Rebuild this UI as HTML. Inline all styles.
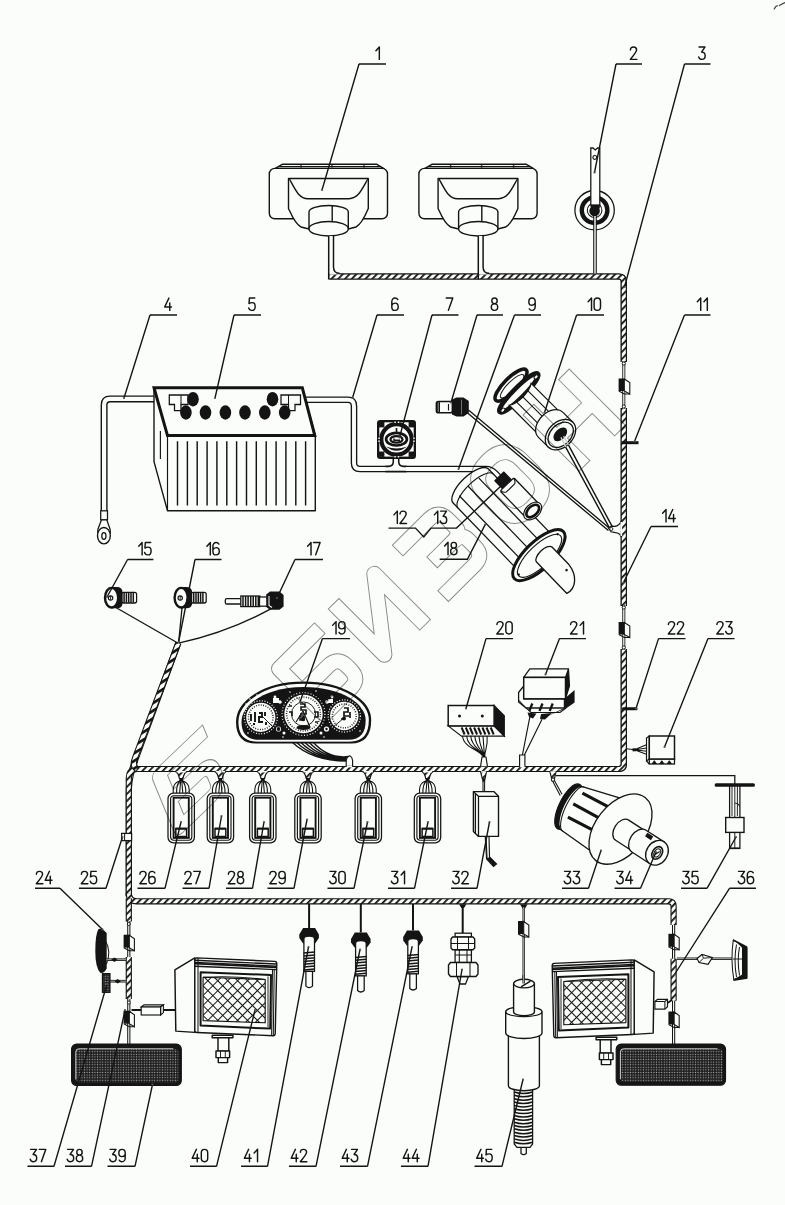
<!DOCTYPE html>
<html><head><meta charset="utf-8"><title>Wiring diagram</title>
<style>
html,body{margin:0;padding:0;background:#fafdf9;}
body{width:785px;height:1205px;overflow:hidden;font-family:"Liberation Sans",sans-serif;}
svg{display:block}
</style></head><body>
<svg width="785" height="1205" viewBox="0 0 785 1205">
<defs>
<pattern id="hatch" width="6.8" height="4.9" patternUnits="userSpaceOnUse" patternTransform="rotate(-46)">
<rect width="6.8" height="4.9" fill="#fafdf9"/><rect width="6.8" height="1.8" fill="#141414"/></pattern>
<pattern id="hatchd" width="6.5" height="6.5" patternUnits="userSpaceOnUse" patternTransform="rotate(-32)">
<rect width="6.5" height="6.5" fill="#fafdf9"/><rect width="6.5" height="2.7" fill="#141414"/></pattern>
<pattern id="mesh" width="7" height="7" patternUnits="userSpaceOnUse" patternTransform="rotate(45)">
<rect width="7" height="7" fill="#fafdf9"/><path d="M0,0H7M0,0V7" stroke="#141414" stroke-width="2.0" fill="none"/></pattern>
<pattern id="dots" width="2.6" height="2.6" patternUnits="userSpaceOnUse">
<rect width="2.6" height="2.6" fill="#1a1a1a"/><rect x="0.7" y="0.7" width="1.2" height="1.2" fill="#a6a6a6"/></pattern>
</defs>
<rect width="785" height="1205" fill="#fafdf9"/>
<path d="M329.3,276.5 H618.8 Q623.8,276.5 623.8,281.5 V362" fill="none" stroke="#141414" stroke-width="6.2" stroke-linejoin="round"/>
<path d="M329.3,276.5 H618.8 Q623.8,276.5 623.8,281.5 V362" fill="none" stroke="url(#hatch)" stroke-width="4.0" stroke-linejoin="round"/>
<path d="M623.8,408 V606" fill="none" stroke="#141414" stroke-width="6.2" stroke-linejoin="round"/>
<path d="M623.8,408 V606" fill="none" stroke="url(#hatch)" stroke-width="4.0" stroke-linejoin="round"/>
<path d="M623.8,649 V764.0 Q623.8,769.0 618.8,769.0 H136" fill="none" stroke="#141414" stroke-width="6.2" stroke-linejoin="round"/>
<path d="M623.8,649 V764.0 Q623.8,769.0 618.8,769.0 H136" fill="none" stroke="url(#hatch)" stroke-width="4.0" stroke-linejoin="round"/>
<path d="M128.8,896.3 V790 Q129.10000000000002,776 135.2,760.5" fill="none" stroke="#141414" stroke-width="6.2" stroke-linejoin="round"/>
<path d="M128.8,896.3 V790 Q129.10000000000002,776 135.2,760.5" fill="none" stroke="url(#hatch)" stroke-width="4.0" stroke-linejoin="round"/>
<path d="M178.3,643 L134.5,762" fill="none" stroke="#141414" stroke-width="6.2" stroke-linejoin="round"/>
<path d="M178.3,643 L134.5,762" fill="none" stroke="url(#hatchd)" stroke-width="4.0" stroke-linejoin="round"/>
<path d="M329.3,276.5 H618.8 Q623.8,276.5 623.8,281.5 V362" fill="none" stroke="#141414" stroke-width="6.2" stroke-linejoin="round"/>
<path d="M329.3,276.5 H618.8 Q623.8,276.5 623.8,281.5 V362" fill="none" stroke="url(#hatch)" stroke-width="4.0" stroke-linejoin="round"/>
<path d="M623.8,408 V606" fill="none" stroke="#141414" stroke-width="6.2" stroke-linejoin="round"/>
<path d="M623.8,408 V606" fill="none" stroke="url(#hatch)" stroke-width="4.0" stroke-linejoin="round"/>
<path d="M623.8,649 V764.0 Q623.8,769.0 618.8,769.0 H136.8 Q128.8,770.0 128.8,778.0 V896.3" fill="none" stroke="#141414" stroke-width="6.2" stroke-linejoin="round"/>
<path d="M623.8,649 V764.0 Q623.8,769.0 618.8,769.0 H136.8 Q128.8,770.0 128.8,778.0 V896.3" fill="none" stroke="url(#hatch)" stroke-width="4.0" stroke-linejoin="round"/>
<path d="M178.3,643 L135,758 Q132,766 136.8,769.0" fill="none" stroke="#141414" stroke-width="6.2" stroke-linejoin="round"/>
<path d="M178.3,643 L135,758 Q132,766 136.8,769.0" fill="none" stroke="url(#hatchd)" stroke-width="4.0" stroke-linejoin="round"/>
<path d="M128.8,893.3 Q128.8,901.3 136.8,901.3 H668.6 Q673.6,901.3 673.6,906.3 V925" fill="none" stroke="#141414" stroke-width="6.2" stroke-linejoin="round"/>
<path d="M128.8,893.3 Q128.8,901.3 136.8,901.3 H668.6 Q673.6,901.3 673.6,906.3 V925" fill="none" stroke="url(#hatch)" stroke-width="4.0" stroke-linejoin="round"/>
<path d="M128.8,898.3 V921.5" fill="none" stroke="#141414" stroke-width="6.2" stroke-linejoin="round"/>
<path d="M128.8,898.3 V921.5" fill="none" stroke="url(#hatch)" stroke-width="4.0" stroke-linejoin="round"/>
<g transform="translate(0,0)" fill="#fafdf9" stroke="#141414" stroke-width="1.4" stroke-linejoin="round"><path d="M275,168.5 L282.3,164.3 H376.8 L384,168.5 Z"/><path d="M278.5,166.6 H380.5" stroke-width="1.03"/><rect x="269.3" y="168.4" width="118.2" height="50.4" rx="5.5"/><path d="M288.5,178.5 H368.3 V208.5 C366,214 362,224 356,227 L348.3,229 H309 L301,227 C295,224 291,214 288.5,208.5 Z"/><path d="M289.5,179 C296,191 299,198.4 308,198.7 L349,198.7 C358,198.4 361,191 367.8,179" fill="none"/><path d="M309,212 V229 A19.65,7 0 0 0 348.3,229 V212 A19.65,6.5 0 0 0 309,212 Z"/><path d="M309,228.5 A19.65,7 0 0 1 348.3,228.5" fill="none"/><path d="M332.2,205.7 V221.6" fill="none"/><path d="M301,165.2 V167.6" stroke-width="1.49"/><path d="M332,165.2 V167.6" stroke-width="1.49"/><path d="M364,165.2 V167.6" stroke-width="1.49"/></g>
<g transform="translate(149.6,0)" fill="#fafdf9" stroke="#141414" stroke-width="1.4" stroke-linejoin="round"><path d="M275,168.5 L282.3,164.3 H376.8 L384,168.5 Z"/><path d="M278.5,166.6 H380.5" stroke-width="1.03"/><rect x="269.3" y="168.4" width="118.2" height="50.4" rx="5.5"/><path d="M288.5,178.5 H368.3 V208.5 C366,214 362,224 356,227 L348.3,229 H309 L301,227 C295,224 291,214 288.5,208.5 Z"/><path d="M289.5,179 C296,191 299,198.4 308,198.7 L349,198.7 C358,198.4 361,191 367.8,179" fill="none"/><path d="M309,212 V229 A19.65,7 0 0 0 348.3,229 V212 A19.65,6.5 0 0 0 309,212 Z"/><path d="M309,228.5 A19.65,7 0 0 1 348.3,228.5" fill="none"/><path d="M332.2,205.7 V221.6" fill="none"/><path d="M301,165.2 V167.6" stroke-width="1.49"/><path d="M332,165.2 V167.6" stroke-width="1.49"/><path d="M364,165.2 V167.6" stroke-width="1.49"/></g>
<path d="M329.3,236 H332.9 V267 Q332.9,274 339.5,274 V274.6 H329.3 Z" fill="#fafdf9" stroke="none"/>
<path d="M328.7,236 V279.4 M333.5,236 V267 Q333.5,273.3 339.5,273.3" fill="none" stroke="#141414" stroke-width="1.49" />
<path d="M478.9,236 H482.5 V267 Q482.5,274 489.1,274 V274.6 H478.9 Z" fill="#fafdf9" stroke="none"/>
<path d="M478.29999999999995,236 V279.4 M483.1,236 V267 Q483.1,273.3 489.1,273.3" fill="none" stroke="#141414" stroke-width="1.49" />
<circle cx="594.6" cy="210.2" r="19.7" fill="#fafdf9" stroke="#141414" stroke-width="1.26"/>
<circle cx="594.6" cy="210.2" r="12.8" fill="none" stroke="#141414" stroke-width="4.4"/>
<circle cx="594.6" cy="210.2" r="7.3" fill="#fafdf9" stroke="#141414" stroke-width="1.03"/>
<path d="M590.8,205.5 V148 H593 L595.3,150 L597.6,148 H599.8 V205.5 Z" fill="#fafdf9" stroke="#141414" stroke-width="1.26"/>
<circle cx="594.6" cy="211.0" r="5.3" fill="#141414"/>
<rect x="590.8" y="204.5" width="9" height="4" fill="#141414"/>
<circle cx="594.8" cy="157.4" r="1.9" fill="#fafdf9" stroke="#141414" stroke-width="1.15"/>
<path d="M595,216 V273.5" fill="none" stroke="#141414" stroke-width="3.6" stroke-linejoin="round"/>
<path d="M595,216 V273.5" fill="none" stroke="#fafdf9" stroke-width="1.4" stroke-linejoin="round"/>
<path d="M172,398.9 H110 Q104.1,398.9 104.1,405 V511" fill="none" stroke="#141414" stroke-width="7.0" stroke-linejoin="round"/>
<path d="M172,398.9 H110 Q104.1,398.9 104.1,405 V511" fill="none" stroke="#fafdf9" stroke-width="4.2" stroke-linejoin="round"/>
<rect x="100.7" y="510.8" width="6.8" height="9" fill="#fafdf9" stroke="#141414" stroke-width="1.26"/>
<path d="M101.5,519.8 L98,529 A6.4,8.2 0 1 0 110,529 L106.8,519.8 Z" fill="#fafdf9" stroke="#141414" stroke-width="1.26"/>
<ellipse cx="103.9" cy="535.7" rx="6.4" ry="8.2" fill="#fafdf9" stroke="#141414" stroke-width="1.38"/>
<ellipse cx="103.9" cy="536" rx="2.1" ry="3.4" fill="#fafdf9" stroke="#141414" stroke-width="1.26"/>
<path d="M298,399.7 H348 Q354,399.7 354,406 V463 Q354,469 360,469 H386" fill="none" stroke="#141414" stroke-width="6.6" stroke-linejoin="round"/>
<path d="M298,399.7 H348 Q354,399.7 354,406 V463 Q354,469 360,469 H386" fill="none" stroke="#fafdf9" stroke-width="3.9" stroke-linejoin="round"/>
<path d="M385.5,466.37 H388.5 Q393.3,466.37 393.3,461.5 V458.5 M406.5,466.37 H403.5 Q398.7,466.37 398.7,461.5 V458.5 M385.5,471.63 H406.5" fill="none" stroke="#141414" stroke-width="1.55" />
<path d="M406,469 H486 Q491,469 495,473 L500,478" fill="none" stroke="#141414" stroke-width="6.6" stroke-linejoin="round"/>
<path d="M406,469 H486 Q491,469 495,473 L500,478" fill="none" stroke="#fafdf9" stroke-width="3.9" stroke-linejoin="round"/>
<path d="M154,387.7 V461.6 L167.5,510.8 H315.3 V435.6 L302.3,387.7 Z" fill="#fafdf9" stroke="#141414" stroke-width="1.38" stroke-linejoin="round"/>
<path d="M154,387.7 H302.3 L314.8,435.6 H167.5 Z" fill="#fafdf9" stroke="#141414" stroke-width="3.0" stroke-linejoin="miter"/>
<path d="M167.5,435.6 V510.8 M160.4,431 V459" fill="none" stroke="#141414" stroke-width="1.15" />
<path d="M177.5,441.2 V505.4 M187.4,441.2 V505.4 M197.2,441.2 V505.4 M207.1,441.2 V505.4 M216.9,441.2 V505.4 M226.8,441.2 V505.4 M236.6,441.2 V505.4 M246.5,441.2 V505.4 M256.3,441.2 V505.4 M266.2,441.2 V505.4 M276.1,441.2 V505.4 M285.9,441.2 V505.4 M295.8,441.2 V505.4 M305.6,441.2 V505.4 " fill="none" stroke="#141414" stroke-width="1.44" />
<path d="M169.3,395 H188 V404.5 H181 V410.7 H174.5 V404.5 H169.3 Z" fill="#fafdf9" stroke="#141414" stroke-width="1.26"/>
<path d="M300.5,395 H281 V404.5 H288.5 V410.7 H295 V404.5 H300.5 Z" fill="#fafdf9" stroke="#141414" stroke-width="1.26"/>
<path d="M181,395 V404.5 M288.5,395 V404.5" fill="none" stroke="#141414" stroke-width="1.03" />
<ellipse cx="185.9" cy="412.5" rx="5.8" ry="7.2" fill="#141414"/>
<ellipse cx="205.5" cy="412.5" rx="5.8" ry="7.2" fill="#141414"/>
<ellipse cx="225.4" cy="412.5" rx="5.8" ry="7.2" fill="#141414"/>
<ellipse cx="245" cy="412.5" rx="5.8" ry="7.2" fill="#141414"/>
<ellipse cx="264.8" cy="412.5" rx="5.8" ry="7.2" fill="#141414"/>
<ellipse cx="284.7" cy="412.5" rx="5.8" ry="7.2" fill="#141414"/>
<ellipse cx="193" cy="399.2" rx="5.8" ry="7.2" fill="#141414"/>
<ellipse cx="272.5" cy="399.2" rx="5.8" ry="7.2" fill="#141414"/>
<rect x="377" y="420" width="39" height="38.9" rx="3.2" fill="#141414"/>
<rect x="379.3" y="422.3" width="34.4" height="34.3" fill="#fafdf9"/>
<rect x="379" y="422" width="5.4" height="5.4" fill="#141414"/>
<rect x="408.6" y="422" width="5.4" height="5.4" fill="#141414"/>
<rect x="379" y="451.5" width="5.4" height="5.4" fill="#141414"/>
<rect x="408.6" y="451.5" width="5.4" height="5.4" fill="#141414"/>
<circle cx="396.5" cy="439.4" r="15.2" fill="#fafdf9" stroke="#141414" stroke-width="4.2"/>
<path d="M386,446.5 Q396.5,455 407,446.5 Q396.5,450.5 386,446.5 Z" fill="#141414"/>
<ellipse cx="396.5" cy="439.2" rx="10.4" ry="6.3" fill="#fafdf9" stroke="#141414" stroke-width="2.7"/>
<ellipse cx="396.5" cy="439.4" rx="6.0" ry="3.3" fill="#fafdf9" stroke="#141414" stroke-width="2.3"/>
<path d="M393.5,440.2 H400 M394,438.4 V440.4" stroke="#141414" stroke-width="1.49" fill="none"/>
<path d="M396.5,428 V432.5" stroke="#141414" stroke-width="1.6"/>
<path d="M394.4,422.2 h1.4 M397.8,422.2 h1.4 M394.4,456.7 h1.4 M397.8,456.7 h1.4 M379,437.5 v1.4 M379,440.5 v1.4 M414,437.5 v1.4 M414,440.5 v1.4" stroke="#fafdf9" stroke-width="1.38"/>
<rect x="436.4" y="401.5" width="16" height="11.2" rx="2" fill="#fafdf9" stroke="#141414" stroke-width="1.6"/>
<path d="M437,402 V412.4 M439.2,401.8 V412.6" stroke="#141414" stroke-width="1.6" fill="none"/>
<path d="M452,399.5 L456.5,397.5 H463.5 L468.8,401 V413 L463.5,416.6 H456.5 L452,414.5 Z" fill="#141414"/>
<path d="M461.5,399.5 V414.5" stroke="#777" stroke-width="0.92"/>
<path d="M448.5,404 V410.5" stroke="#141414" stroke-width="1.15"/>
<path d="M468.5,410 L609.5,528.2 M467.6,412.9 L608.4,530.6" fill="none" stroke="#141414" stroke-width="1.32" />
<path d="M560.4,437.4 L609.4,527.8 M563.6,435.8 L612,526.2" fill="none" stroke="#141414" stroke-width="1.4" />
<path d="M608.3,528 L611.5,526.2 L615,526.4 Q619,526 621.3,521 V537 Q619.5,532.8 615.5,532.6 L611,531.8 Z" fill="#fafdf9" stroke="#141414" stroke-width="1.15"/>
<path d="M621.3,522 V536" stroke="#fafdf9" stroke-width="1.6"/>
<circle cx="611.3" cy="529" r="1.6" fill="#fafdf9" stroke="#141414" stroke-width="0.92"/>
<g transform="translate(560.5,434.6) rotate(45)" fill="#fafdf9" stroke="#141414" stroke-width="1.26"><ellipse cx="-70" cy="0" rx="7" ry="21.5" stroke-width="3.6"/><ellipse cx="-68.5" cy="0" rx="4.5" ry="16" stroke-width="1.03"/><path d="M-59,-27 C-52,-27 -52,27 -59,27 C-66,27 -66,-27 -59,-27 Z" stroke-width="4.6" /><ellipse cx="-58" cy="-23.5" rx="1.6" ry="2.4" stroke-width="1.03"/><ellipse cx="-58" cy="23.5" rx="1.6" ry="2.4" stroke-width="1.03"/><path d="M-57,-15.5 H-12 V15.5 H-57 C-52,8 -52,-8 -57,-15.5 Z"/><path d="M-55,-8 H-14 M-54,0 H-14 M-55,8 H-14" fill="none" stroke-width="1.15"/><path d="M-14,-17.5 H0 V17.5 H-14 A12,17.5 0 0 1 -14,-17.5 Z"/><ellipse cx="0" cy="0" rx="12.5" ry="17.5"/><ellipse cx="0.3" cy="0" rx="10.3" ry="14.6"/><ellipse cx="-0.3" cy="0" rx="4.6" ry="7.6" fill="#141414"/></g>
<path d="M560.9,437.4 L566,446.8 M563.6,436.2 L568.3,445" fill="none" stroke="#cfcfcf" stroke-width="1.38" />
<rect x="622" y="441.2" width="16.5" height="3" fill="#141414"/>
<rect x="622" y="707.2" width="15.5" height="3" rx="1.2" fill="#141414"/>
<path d="M623.8,361 V409" fill="none" stroke="#141414" stroke-width="3.0" stroke-linejoin="round"/>
<path d="M623.8,361 V409" fill="none" stroke="#fafdf9" stroke-width="1.26" stroke-linejoin="round"/>
<circle cx="623.8" cy="363.5" r="1.6" fill="#fafdf9" stroke="#141414" stroke-width="0.92"/><circle cx="623.8" cy="406.5" r="1.6" fill="#fafdf9" stroke="#141414" stroke-width="0.92"/>
<path d="M618.5999999999999,378.5 H624.3 V391 H618.5999999999999 Z" fill="#141414"/>
<path d="M624.3,379 L629.8,382.5 V394 L624.3,391 Z" fill="#fafdf9" stroke="#141414" stroke-width="1.09"/>
<path d="M618.8,391 L624.3,394 H629.8" fill="none" stroke="#141414" stroke-width="1.03"/>
<path d="M623.8,605 V650" fill="none" stroke="#141414" stroke-width="3.0" stroke-linejoin="round"/>
<path d="M623.8,605 V650" fill="none" stroke="#fafdf9" stroke-width="1.26" stroke-linejoin="round"/>
<circle cx="623.8" cy="607.5" r="1.6" fill="#fafdf9" stroke="#141414" stroke-width="0.92"/><circle cx="623.8" cy="647.5" r="1.6" fill="#fafdf9" stroke="#141414" stroke-width="0.92"/>
<path d="M618.5999999999999,622.0 H624.3 V634.5 H618.5999999999999 Z" fill="#141414"/>
<path d="M624.3,622.5 L629.8,626.0 V637.5 L624.3,634.5 Z" fill="#fafdf9" stroke="#141414" stroke-width="1.09"/>
<path d="M618.8,634.5 L624.3,637.5 H629.8" fill="none" stroke="#141414" stroke-width="1.03"/>
<g transform="translate(539.6,554.4) rotate(46)" fill="#fafdf9" stroke="#141414" stroke-width="1.32" stroke-linejoin="round"><path d="M-97,-22.5 H-3 V26.5 H-97 A10,24.5 0 0 1 -97,-22.5 Z"/><path d="M-90,-22.5 A9,24.5 0 0 0 -90,26.5" fill="none" stroke-width="1.15"/><path d="M-98,17 H-6 M-99,4 H-6 M-97,-9.3 H-6" fill="none" stroke-width="1.26"/><path d="M-72,-34.7 H-36 V-15.7 H-72 Z"/><path d="M-84,-31.5 H-72.5 V-19 H-84 Z" fill="#141414"/><path d="M-73,-34 Q-70,-34.5 -68,-31 V-19.5 Q-70,-16 -73,-16.5 Z" fill="#fafdf9" stroke-width="1.15"/><ellipse cx="-36" cy="-25.2" rx="7" ry="10.5" stroke-width="1.15"/><ellipse cx="-36" cy="-25.2" rx="4.6" ry="7.6" stroke-width="2.6"/><ellipse cx="0" cy="1" rx="13.5" ry="34" stroke-width="3.0"/><ellipse cx="1" cy="1" rx="10.6" ry="29" stroke-width="1.15"/><circle cx="-2" cy="-27" r="1.2" fill="#141414" stroke="none"/><circle cx="0" cy="29" r="1.2" fill="#141414" stroke="none"/><path d="M3,-14 H28 C41,-12.5 50,-3 47,7.5 H3 A5,10.8 0 0 1 3,-14 Z"/><circle cx="30" cy="-8.5" r="1.3" fill="#141414" stroke="none"/></g>
<path d="M115,607 L178.2,643.2 M182,608 L178.6,643 M271.6,608.4 Q229,632 178.6,643.2" fill="none" stroke="#141414" stroke-width="1.32" />
<rect x="121.6" y="592.4000000000001" width="15" height="10.6" rx="2" fill="#fafdf9" stroke="#141414" stroke-width="1.26"/>
<path d="M124.1,592.7 V602.7" stroke="#141414" stroke-width="1.5"/><path d="M126.4,592.7 V602.7" stroke="#141414" stroke-width="1.5"/><path d="M128.7,592.7 V602.7" stroke="#141414" stroke-width="1.5"/><path d="M131.0,592.7 V602.7" stroke="#141414" stroke-width="1.5"/><path d="M133.3,592.7 V602.7" stroke="#141414" stroke-width="1.5"/>
<path d="M111.6,587.1 H116.6 Q122.6,587.1 122.6,592.7 V602.7 Q122.6,608.3000000000001 116.6,608.3000000000001 H111.6 Z" fill="#141414"/>
<ellipse cx="111.6" cy="597.7" rx="6.6" ry="9.8" fill="#fafdf9" stroke="#141414" stroke-width="2.4"/>
<circle cx="110.6" cy="598.0" r="2.2" fill="#fafdf9" stroke="#141414" stroke-width="1.15"/>
<path d="M110.6,595.9000000000001 V600.1" stroke="#141414" stroke-width="0.92"/>
<rect x="191.2" y="592.4000000000001" width="15" height="10.6" rx="2" fill="#fafdf9" stroke="#141414" stroke-width="1.26"/>
<path d="M193.7,592.7 V602.7" stroke="#141414" stroke-width="1.5"/><path d="M196.0,592.7 V602.7" stroke="#141414" stroke-width="1.5"/><path d="M198.3,592.7 V602.7" stroke="#141414" stroke-width="1.5"/><path d="M200.6,592.7 V602.7" stroke="#141414" stroke-width="1.5"/><path d="M202.9,592.7 V602.7" stroke="#141414" stroke-width="1.5"/>
<path d="M181.2,587.1 H186.2 Q192.2,587.1 192.2,592.7 V602.7 Q192.2,608.3000000000001 186.2,608.3000000000001 H181.2 Z" fill="#141414"/>
<ellipse cx="181.2" cy="597.7" rx="6.6" ry="9.8" fill="#fafdf9" stroke="#141414" stroke-width="2.4"/>
<circle cx="180.2" cy="598.0" r="2.2" fill="#fafdf9" stroke="#141414" stroke-width="1.15"/>
<path d="M180.2,595.9000000000001 V600.1" stroke="#141414" stroke-width="0.92"/>
<rect x="225.3" y="598.6" width="16" height="5.4" rx="1.6" fill="#fafdf9" stroke="#141414" stroke-width="1.26"/>
<rect x="240.8" y="596" width="19" height="10.6" fill="#fafdf9" stroke="#141414" stroke-width="1.26"/>
<path d="M243.0,596 V606.6" stroke="#141414" stroke-width="1.5"/><path d="M245.6,596 V606.6" stroke="#141414" stroke-width="1.5"/><path d="M248.1,596 V606.6" stroke="#141414" stroke-width="1.5"/><path d="M250.7,596 V606.6" stroke="#141414" stroke-width="1.5"/><path d="M253.2,596 V606.6" stroke="#141414" stroke-width="1.5"/><path d="M255.8,596 V606.6" stroke="#141414" stroke-width="1.5"/><path d="M258.3,596 V606.6" stroke="#141414" stroke-width="1.5"/>
<rect x="259.5" y="597" width="9" height="9.2" fill="#fafdf9" stroke="#141414" stroke-width="1.26"/>
<path d="M266.2,594.5 L270,591.6 H279.5 L283.6,595 V606.5 L279.5,609.8 H270 L266.2,607 Z" fill="#141414"/>
<path d="M269,596 V605.5 L272,607.5" stroke="#fafdf9" stroke-width="1.03" fill="none"/>
<path d="M292.0,742 Q312.0,761.0 346.5,761.0 M296.2,742 Q315.2,760.6 346.9,760.1 M300.4,742 Q318.4,760.2 347.3,759.2 M304.6,742 Q321.6,759.8 347.7,758.3 M308.8,742 Q324.8,759.4 348.1,757.4 M313.0,742 Q328.0,759.0 348.5,756.5 " fill="none" stroke="#141414" stroke-width="1.32" />
<path d="M346.2,766.2 V760.5 Q346.5,757 349.8,755.8 Q352.3,757 352.6,760.5 V766.2 Z" fill="#fafdf9" stroke="#141414" stroke-width="1.15"/>
<path d="M346.7,766.6 H352.1" stroke="#fafdf9" stroke-width="1.6"/>
<path d="M256,742.4 C242,742.4 237.2,734 237.2,722 C237.2,703 262,682.6 303.5,682.6 C345,682.6 370,702 370,720 C370,734 365,742.4 351,742.4 Z" fill="#fafdf9" stroke="#141414" stroke-width="2.4"/>
<path d="M256,742.4 C242,742.4 237.2,734 237.2,722 C237.2,703 262,682.6 303.5,682.6 C345,682.6 370,702 370,720 C370,734 365,742.4 351,742.4 Z" fill="#141414" stroke="none" transform="translate(303.6,714) scale(0.935,0.885) translate(-303.6,-713.2)"/>
<path d="M256,742.4 C242,742.4 237.2,734 237.2,722 C237.2,703 262,682.6 303.5,682.6 C345,682.6 370,702 370,720 C370,734 365,742.4 351,742.4 Z" fill="none" stroke="#fafdf9" stroke-width="0.92" transform="translate(303.6,714) scale(0.965,0.93) translate(-303.6,-713.2)"/>
<circle cx="260.8" cy="717.3" r="14.6" fill="#fafdf9"/>
<circle cx="260.8" cy="717.3" r="12.3" fill="none" stroke="#141414" stroke-width="1.5" stroke-dasharray="0.9 1.5"/>
<circle cx="303.5" cy="714" r="19.2" fill="#fafdf9"/>
<circle cx="303.5" cy="714" r="16.9" fill="none" stroke="#141414" stroke-width="1.5" stroke-dasharray="0.9 1.5"/>
<circle cx="344.3" cy="716" r="14.2" fill="#fafdf9"/>
<circle cx="344.3" cy="716" r="11.899999999999999" fill="none" stroke="#141414" stroke-width="1.5" stroke-dasharray="0.9 1.5"/>
<circle cx="260.8" cy="717.3" r="16.5" fill="none" stroke="#fafdf9" stroke-width="1.26" stroke-dasharray="1 1.7"/>
<circle cx="344.3" cy="716" r="16.099999999999998" fill="none" stroke="#fafdf9" stroke-width="1.26" stroke-dasharray="1 1.7"/>
<circle cx="303.5" cy="714" r="21.4" fill="none" stroke="#fafdf9" stroke-width="1.15" stroke-dasharray="1 1.9"/>
<circle cx="246" cy="704" r="0.8" fill="#fafdf9"/>
<circle cx="250" cy="699" r="0.8" fill="#fafdf9"/>
<circle cx="257" cy="695" r="0.8" fill="#fafdf9"/>
<circle cx="352" cy="697" r="0.8" fill="#fafdf9"/>
<circle cx="358" cy="702" r="0.8" fill="#fafdf9"/>
<circle cx="362" cy="708" r="0.8" fill="#fafdf9"/>
<circle cx="248" cy="733" r="0.8" fill="#fafdf9"/>
<circle cx="360" cy="731" r="0.8" fill="#fafdf9"/>
<circle cx="283" cy="737" r="0.8" fill="#fafdf9"/>
<circle cx="324" cy="737" r="0.8" fill="#fafdf9"/>
<circle cx="290" cy="692" r="0.8" fill="#fafdf9"/>
<circle cx="316" cy="691" r="0.8" fill="#fafdf9"/>
<circle cx="303.5" cy="714" r="12" fill="none" stroke="#141414" stroke-width="0.92"/>
<path d="M303,711 L310,727 M303,711 L296,722" stroke="#141414" stroke-width="1.15" fill="none"/>
<path d="M300,704 h5 v3 h-4 v3 h5 v4 h-6 M300,716 h4 v4 h-4 z" stroke="#141414" stroke-width="1.6" fill="none"/>
<circle cx="303" cy="719" r="2.2" fill="#141414"/>
<ellipse cx="303.5" cy="727.5" rx="7" ry="2.6" fill="#141414"/>
<path d="M314,712 h4 v5 h-4 M289,706 h3 M289,712 h3 v4 M318,722 h-3" stroke="#141414" stroke-width="1.6" fill="none"/>
<path d="M251,714 v7 M255,712 v10 M259,713 h3 v4 h-3 v5 h4 M265,712 v4 M266,722 v3 M253,724 h2" stroke="#141414" stroke-width="1.9" fill="none"/>
<path d="M262,716 L272,726" stroke="#141414" stroke-width="0.92"/>
<path d="M344,708 h4 v4 h-4 v4 h5 M350,712 v6 M341,719 h3" stroke="#141414" stroke-width="1.7" fill="none"/>
<circle cx="344" cy="718.5" r="2" fill="#141414"/>
<path d="M344,718 L333,727" stroke="#141414" stroke-width="0.92"/>
<circle cx="278.5" cy="729" r="2.6" fill="#fafdf9"/>
<circle cx="326.5" cy="729" r="2.6" fill="#fafdf9"/>
<circle cx="280" cy="702" r="1.8" fill="#fafdf9"/>
<circle cx="327" cy="702" r="1.8" fill="#fafdf9"/>
<circle cx="275" cy="697" r="1.4" fill="#fafdf9"/>
<circle cx="332" cy="697" r="1.4" fill="#fafdf9"/>
<circle cx="321" cy="733" r="1.5" fill="#fafdf9"/>
<circle cx="284" cy="733" r="1.5" fill="#fafdf9"/>
<circle cx="278.5" cy="729" r="1.9" fill="#141414"/><circle cx="326.5" cy="729" r="1.2" fill="#141414"/>
<path d="M273,698 h6 v5 h-6 z M328,699 h5 v4 h-5 z" fill="#fafdf9"/>
<path d="M175.6,771.6 Q178.2,772.5 179.39999999999998,778.5 H183.0 Q184.2,772.5 186.79999999999998,771.6" fill="url(#hatch)" stroke="#141414" stroke-width="1.15"/>
<path d="M176.6,771.7 H185.79999999999998" stroke="#fafdf9" stroke-width="1.5"/>
<path d="M179.29999999999998,778 h3.8 v3.6 h-3.8 z" fill="#141414"/>
<path d="M179.7,781 C173.2,783 173.0,788 173.2,793.1 M182.7,781 C189.2,783 189.39999999999998,788 189.2,793.1 M180.2,781 C176.7,784 176.39999999999998,788 176.6,793.1 M182.2,781 C185.7,784 186.0,788 185.79999999999998,793.1 M180.6,781.5 L179.6,793.1 M181.79999999999998,781.5 L182.79999999999998,793.1" fill="none" stroke="#141414" stroke-width="1.09"/>
<rect x="168.0" y="793.1" width="26.4" height="49.7" rx="5.5" fill="#fafdf9" stroke="#141414" stroke-width="1.26"/>
<rect x="170.6" y="795.7" width="21.2" height="44.5" rx="3.4" fill="none" stroke="#141414" stroke-width="1.15"/>
<rect x="173.6" y="797.7" width="15.2" height="40.2" fill="#fafdf9" stroke="#141414" stroke-width="1.9"/>
<rect x="175.79999999999998" y="828.5" width="10.8" height="8" fill="#fafdf9" stroke="#141414" stroke-width="1.49"/>
<path d="M175.79999999999998,828.7 H186.6" stroke="#141414" stroke-width="2.0"/>
<path d="M214.8,771.6 Q217.4,772.5 218.6,778.5 H222.20000000000002 Q223.4,772.5 226.0,771.6" fill="url(#hatch)" stroke="#141414" stroke-width="1.15"/>
<path d="M215.8,771.7 H225.0" stroke="#fafdf9" stroke-width="1.5"/>
<path d="M218.5,778 h3.8 v3.6 h-3.8 z" fill="#141414"/>
<path d="M218.9,781 C212.4,783 212.20000000000002,788 212.4,793.1 M221.9,781 C228.4,783 228.6,788 228.4,793.1 M219.4,781 C215.9,784 215.6,788 215.8,793.1 M221.4,781 C224.9,784 225.20000000000002,788 225.0,793.1 M219.8,781.5 L218.8,793.1 M221.0,781.5 L222.0,793.1" fill="none" stroke="#141414" stroke-width="1.09"/>
<rect x="207.20000000000002" y="793.1" width="26.4" height="49.7" rx="5.5" fill="#fafdf9" stroke="#141414" stroke-width="1.26"/>
<rect x="209.8" y="795.7" width="21.2" height="44.5" rx="3.4" fill="none" stroke="#141414" stroke-width="1.15"/>
<rect x="212.8" y="797.7" width="15.2" height="40.2" fill="#fafdf9" stroke="#141414" stroke-width="1.9"/>
<rect x="215.0" y="828.5" width="10.8" height="8" fill="#fafdf9" stroke="#141414" stroke-width="1.49"/>
<path d="M215.0,828.7 H225.8" stroke="#141414" stroke-width="2.0"/>
<path d="M257.2,771.6 Q259.8,772.5 261.0,778.5 H264.6 Q265.8,772.5 268.40000000000003,771.6" fill="url(#hatch)" stroke="#141414" stroke-width="1.15"/>
<path d="M258.2,771.7 H267.40000000000003" stroke="#fafdf9" stroke-width="1.5"/>
<path d="M260.90000000000003,778 h3.8 v3.6 h-3.8 z" fill="#141414"/>
<path d="M261.3,781 C254.8,783 254.60000000000002,788 254.8,793.1 M264.3,781 C270.8,783 271.0,788 270.8,793.1 M261.8,781 C258.3,784 258.0,788 258.2,793.1 M263.8,781 C267.3,784 267.6,788 267.40000000000003,793.1 M262.2,781.5 L261.2,793.1 M263.40000000000003,781.5 L264.40000000000003,793.1" fill="none" stroke="#141414" stroke-width="1.09"/>
<rect x="249.60000000000002" y="793.1" width="26.4" height="49.7" rx="5.5" fill="#fafdf9" stroke="#141414" stroke-width="1.26"/>
<rect x="252.20000000000002" y="795.7" width="21.2" height="44.5" rx="3.4" fill="none" stroke="#141414" stroke-width="1.15"/>
<rect x="255.20000000000002" y="797.7" width="15.2" height="40.2" fill="#fafdf9" stroke="#141414" stroke-width="1.9"/>
<rect x="257.40000000000003" y="828.5" width="10.8" height="8" fill="#fafdf9" stroke="#141414" stroke-width="1.49"/>
<path d="M257.40000000000003,828.7 H268.2" stroke="#141414" stroke-width="2.0"/>
<path d="M302.4,771.6 Q305,772.5 306.2,778.5 H309.8 Q311,772.5 313.6,771.6" fill="url(#hatch)" stroke="#141414" stroke-width="1.15"/>
<path d="M303.4,771.7 H312.6" stroke="#fafdf9" stroke-width="1.5"/>
<path d="M306.1,778 h3.8 v3.6 h-3.8 z" fill="#141414"/>
<path d="M306.5,781 C300,783 299.8,788 300,793.1 M309.5,781 C316,783 316.2,788 316,793.1 M307,781 C303.5,784 303.2,788 303.4,793.1 M309,781 C312.5,784 312.8,788 312.6,793.1 M307.4,781.5 L306.4,793.1 M308.6,781.5 L309.6,793.1" fill="none" stroke="#141414" stroke-width="1.09"/>
<rect x="294.8" y="793.1" width="26.4" height="49.7" rx="5.5" fill="#fafdf9" stroke="#141414" stroke-width="1.26"/>
<rect x="297.4" y="795.7" width="21.2" height="44.5" rx="3.4" fill="none" stroke="#141414" stroke-width="1.15"/>
<rect x="300.4" y="797.7" width="15.2" height="40.2" fill="#fafdf9" stroke="#141414" stroke-width="1.9"/>
<rect x="302.6" y="828.5" width="10.8" height="8" fill="#fafdf9" stroke="#141414" stroke-width="1.49"/>
<path d="M302.6,828.7 H313.4" stroke="#141414" stroke-width="2.0"/>
<path d="M362.7,771.6 Q365.3,772.5 366.5,778.5 H370.1 Q371.3,772.5 373.90000000000003,771.6" fill="url(#hatch)" stroke="#141414" stroke-width="1.15"/>
<path d="M363.7,771.7 H372.90000000000003" stroke="#fafdf9" stroke-width="1.5"/>
<path d="M366.40000000000003,778 h3.8 v3.6 h-3.8 z" fill="#141414"/>
<path d="M366.8,781 C360.3,783 360.1,788 360.3,793.1 M369.8,781 C376.3,783 376.5,788 376.3,793.1 M367.3,781 C363.8,784 363.5,788 363.7,793.1 M369.3,781 C372.8,784 373.1,788 372.90000000000003,793.1 M367.7,781.5 L366.7,793.1 M368.90000000000003,781.5 L369.90000000000003,793.1" fill="none" stroke="#141414" stroke-width="1.09"/>
<rect x="355.1" y="793.1" width="26.4" height="49.7" rx="5.5" fill="#fafdf9" stroke="#141414" stroke-width="1.26"/>
<rect x="357.7" y="795.7" width="21.2" height="44.5" rx="3.4" fill="none" stroke="#141414" stroke-width="1.15"/>
<rect x="360.7" y="797.7" width="15.2" height="40.2" fill="#fafdf9" stroke="#141414" stroke-width="1.9"/>
<rect x="362.90000000000003" y="828.5" width="10.8" height="8" fill="#fafdf9" stroke="#141414" stroke-width="1.49"/>
<path d="M362.90000000000003,828.7 H373.7" stroke="#141414" stroke-width="2.0"/>
<path d="M421.9,771.6 Q424.5,772.5 425.7,778.5 H429.3 Q430.5,772.5 433.1,771.6" fill="url(#hatch)" stroke="#141414" stroke-width="1.15"/>
<path d="M422.9,771.7 H432.1" stroke="#fafdf9" stroke-width="1.5"/>
<path d="M425.6,778 h3.8 v3.6 h-3.8 z" fill="#141414"/>
<path d="M426.0,781 C419.5,783 419.3,788 419.5,793.1 M429.0,781 C435.5,783 435.7,788 435.5,793.1 M426.5,781 C423.0,784 422.7,788 422.9,793.1 M428.5,781 C432.0,784 432.3,788 432.1,793.1 M426.9,781.5 L425.9,793.1 M428.1,781.5 L429.1,793.1" fill="none" stroke="#141414" stroke-width="1.09"/>
<rect x="414.3" y="793.1" width="26.4" height="49.7" rx="5.5" fill="#fafdf9" stroke="#141414" stroke-width="1.26"/>
<rect x="416.9" y="795.7" width="21.2" height="44.5" rx="3.4" fill="none" stroke="#141414" stroke-width="1.15"/>
<rect x="419.9" y="797.7" width="15.2" height="40.2" fill="#fafdf9" stroke="#141414" stroke-width="1.9"/>
<rect x="422.1" y="828.5" width="10.8" height="8" fill="#fafdf9" stroke="#141414" stroke-width="1.49"/>
<path d="M422.1,828.7 H432.9" stroke="#141414" stroke-width="2.0"/>
<path d="M462.5,736 C463.5,748 481.0,750 483.2,757 M466.6,736 C467.6,748 481.6,750 483.4,757 M470.7,736 C471.7,748 482.2,750 483.7,757 M474.8,736 C475.8,748 482.8,750 483.9,757 M478.9,736 C479.9,748 483.4,750 484.2,757 M483.0,736 C484.0,748 484.0,750 484.4,757 M487.1,736 C488.1,748 484.6,750 484.7,757 " fill="none" stroke="#141414" stroke-width="1.09" />
<path d="M480.6,766.2 L482,757 H486 L487.4,766.2" fill="#fafdf9" stroke="#141414" stroke-width="1.15"/>
<path d="M448.2,725.9 H494.1 L504.3,736.1 H461.5 Z" fill="#fafdf9" stroke="#141414" stroke-width="1.15"/>
<path d="M461.6,727.5 L464.6,734.5" stroke="#141414" stroke-width="2.0"/><path d="M465.8,727.5 L468.8,734.5" stroke="#141414" stroke-width="2.0"/><path d="M469.9,727.5 L472.9,734.5" stroke="#141414" stroke-width="2.0"/><path d="M474.1,727.5 L477.1,734.5" stroke="#141414" stroke-width="2.0"/><path d="M478.2,727.5 L481.2,734.5" stroke="#141414" stroke-width="2.0"/><path d="M482.4,727.5 L485.4,734.5" stroke="#141414" stroke-width="2.0"/><path d="M486.5,727.5 L489.5,734.5" stroke="#141414" stroke-width="2.0"/><path d="M490.7,727.5 L493.7,734.5" stroke="#141414" stroke-width="2.0"/>
<path d="M494.1,705.5 L504.3,715.7 V736.1 L494.1,725.9 Z" fill="#141414" stroke="#141414" stroke-width="1.15"/>
<rect x="448.2" y="705.5" width="45.9" height="20.4" fill="#fafdf9" stroke="#141414" stroke-width="1.49"/>
<circle cx="459.5" cy="715.9" r="1.5" fill="#141414"/><circle cx="482.3" cy="715.9" r="1.5" fill="#141414"/>
<path d="M529.8,717.2 L522.4,755 M542,719.2 L524.4,755" fill="none" stroke="#141414" stroke-width="1.15" />
<path d="M519.6,766.3 V755 H524.9 V766.3" fill="#fafdf9" stroke="#141414" stroke-width="1.15"/>
<path d="M520.2,766.6 H524.4" stroke="#fafdf9" stroke-width="1.6"/>
<path d="M564.4,698.8 L574.6,690 V702.5 L566,708.5 L545,717 L564.4,708 Z" fill="#141414"/>
<path d="M518.6,692.5 L523.7,686 V698.8 H564.4 V708 H526 L518.6,702 Z" fill="#fafdf9" stroke="#141414" stroke-width="1.26" stroke-linejoin="round"/>
<path d="M519,700.5 L526,708 L531,712.5 H560 L566,708" fill="none" stroke="#141414" stroke-width="1.03"/>
<path d="M532.3,703.5 L529.3,711" stroke="#141414" stroke-width="2.3"/>
<path d="M542.5,703.5 L539.5,711" stroke="#141414" stroke-width="2.3"/>
<path d="M552.7,703.5 L549.7,711" stroke="#141414" stroke-width="2.3"/>
<path d="M527.5,712.5 L536.5,713.5 L533,718.5 L529,717 Z M541,714 L552,713 L545,719.5 L540,719 Z" fill="#141414"/>
<path d="M565.5,677.4 L568.5,668.9 L569.5,686 L565.5,698.8 Z" fill="#141414" stroke="#141414" stroke-width="1.15"/>
<path d="M523.7,677.4 L529.8,668.9 H568.5 L565.5,677.4 Z" fill="#fafdf9" stroke="#141414" stroke-width="1.26" stroke-linejoin="round"/>
<rect x="523.7" y="677.4" width="41.8" height="21.4" fill="#fafdf9" stroke="#141414" stroke-width="1.49"/>
<path d="M626.5,748.8 L634.4,749.8 L647,744.5 M634.4,749.8 L647,748 M634.4,749.8 L647,751.2 M634.4,749.8 L647,754.4" fill="none" stroke="#141414" stroke-width="1.09" />
<path d="M632.5,748.3 h3.4 v3 h-3.4 z" fill="#141414"/>
<path d="M646.5,738 L649.3,736 V759 L646.5,761 Z" fill="#fafdf9" stroke="#141414" stroke-width="1.15"/>
<rect x="649.3" y="759" width="25.2" height="5" fill="#fafdf9" stroke="#141414" stroke-width="1.26"/>
<path d="M646.5,761 L649.3,764" stroke="#141414" stroke-width="1.15"/>
<path d="M652,764 l2.3,-3.3 l2.3,3.3 M659.5,764 l2.3,-3.3 l2.3,3.3 M667,764 l2.3,-3.3 l2.3,3.3" fill="#141414" stroke="#141414" stroke-width="0.92"/>
<rect x="649.3" y="736" width="25.2" height="23" fill="#fafdf9" stroke="#141414" stroke-width="1.49"/>
<path d="M480.6,771.8 L482.4,779 H485 L486.4,771.8" fill="url(#hatch)" stroke="#141414" stroke-width="1.15"/>
<path d="M481.1,771.9 H485.9" stroke="#fafdf9" stroke-width="1.4"/>
<path d="M482.2,778.6 h3 v3 h-3 z" fill="#141414"/>
<path d="M483,781 V792 M484.6,781 V792" fill="none" stroke="#141414" stroke-width="1.03" />
<path d="M485.2,836 L486.6,859 L493.5,866.5 L496.5,864 L489.5,857 L489,836 Z" fill="#fafdf9" stroke="#141414" stroke-width="1.15"/>
<path d="M486.6,858.5 L493.5,866.5 L496.5,864 L489.8,857 Z M485.3,836 L486.6,859 L487.6,859 L486.6,836 Z" fill="#141414"/>
<path d="M473.4,791.6 H493.8 L498.5,796.3 V836.4 H478.5 L473.4,831.5 Z" fill="#fafdf9" stroke="#141414" stroke-width="1.38" stroke-linejoin="round"/>
<path d="M473.4,791.6 L478.5,796.3 H498.5 M478.5,796.3 V836.4 M475.4,793.8 V833" fill="none" stroke="#141414" stroke-width="1.26"/>
<path d="M556,775.6 H734.8 V785" fill="none" stroke="#141414" stroke-width="1.26" />
<rect x="729.6" y="785" width="10.3" height="63.4" fill="#fafdf9" stroke="#141414" stroke-width="1.26"/>
<path d="M734.8,785 V848 M732,785 V816 M737.4,785 V816 M735,803 Q739,803 739.6,806.5" fill="none" stroke="#141414" stroke-width="0.92" />
<rect x="714.7" y="783.2" width="40.2" height="3.5" rx="1.5" fill="#141414"/>
<rect x="725.7" y="817.5" width="18.3" height="14.9" fill="#fafdf9" stroke="#141414" stroke-width="1.38"/>
<path d="M730,848.3 H739.6" stroke="#141414" stroke-width="1.6"/>
<path d="M549.9,771.8 L551.6,778.2 H554.6 L556,771.8" fill="url(#hatch)" stroke="#141414" stroke-width="1.15"/>
<path d="M550.4,771.9 H555.5" stroke="#fafdf9" stroke-width="1.4"/>
<circle cx="553" cy="779.6" r="1.7" fill="#fafdf9" stroke="#141414" stroke-width="1.03"/>
<path d="M552.6,781 L560.2,795.4 M554.4,780.4 L562,794.2" fill="none" stroke="#141414" stroke-width="1.09" />
<g transform="translate(620.5,829.1) rotate(26)" fill="#fafdf9" stroke="#141414" stroke-width="1.32" stroke-linejoin="round"><ellipse cx="-56.5" cy="2.5" rx="9.5" ry="24.8" fill="#141414" /><path d="M-53,-21.5 L-12,-28 V33.5 L-53,26.8 A9,24.2 0 0 1 -53,-21.5 Z"/><path d="M-51,-21.8 A8,24 0 0 0 -51,27" fill="none" stroke-width="1.03"/><path d="M-50,-15.6 L-19,-14.7 M-53.5,-1.9 L-22.8,-0.6 M-52.5,12.3 L-23.2,13" stroke-width="3.2" fill="none"/></g><ellipse cx="620.5" cy="829.1" rx="25" ry="40" transform="rotate(38 620.5 829.1)" fill="#fafdf9" stroke="#141414" stroke-width="1.32"/><g transform="translate(620.5,829.1) rotate(33)" fill="#fafdf9" stroke="#141414" stroke-width="1.32" stroke-linejoin="round"><path d="M2,-12 H24 V12 H2 A8,12 0 0 1 2,-12 Z"/><path d="M22,-13 H43.5 V13 H22 A9,13 0 0 1 22,-13 Z"/><path d="M24.5,-9.5 H31.5" stroke-width="4.4" fill="none"/><ellipse cx="43.5" cy="0" rx="10.6" ry="13"/><ellipse cx="43.8" cy="0" rx="4.8" ry="6.8" stroke-width="1.6"/><ellipse cx="43.8" cy="0" rx="2.9" ry="4.4" stroke-width="1.03"/><path d="M42.8,2.6 L45,-2.6" stroke-width="1.26"/></g>
<path d="M128.8,921 V1044" fill="none" stroke="#141414" stroke-width="3.2" stroke-linejoin="round"/>
<path d="M128.8,921 V1044" fill="none" stroke="#fafdf9" stroke-width="1.15" stroke-linejoin="round"/>
<path d="M128.8,957 V999" fill="none" stroke="#141414" stroke-width="6.2" stroke-linejoin="round"/>
<path d="M128.8,957 V999" fill="none" stroke="url(#hatch)" stroke-width="4.0" stroke-linejoin="round"/>
<path d="M123.60000000000001,934.7 H129.3 V947.7 H123.60000000000001 Z" fill="#141414"/>
<path d="M129.3,935.2 L134.4,938.7 V950.7 L129.3,947.7 Z" fill="#fafdf9" stroke="#141414" stroke-width="1.09"/>
<path d="M123.80000000000001,947.7 L129.3,950.7 H134.4" fill="none" stroke="#141414" stroke-width="1.03"/>
<path d="M123.60000000000001,1010.7 H129.3 V1023.7 H123.60000000000001 Z" fill="#141414"/>
<path d="M129.3,1011.2 L134.4,1014.7 V1026.7 L129.3,1023.7 Z" fill="#fafdf9" stroke="#141414" stroke-width="1.09"/>
<path d="M123.80000000000001,1023.7 L129.3,1026.7 H134.4" fill="none" stroke="#141414" stroke-width="1.03"/>
<circle cx="128.8" cy="924" r="1.5" fill="#fafdf9" stroke="#141414" stroke-width="0.92"/><circle cx="128.8" cy="1002.5" r="1.5" fill="#fafdf9" stroke="#141414" stroke-width="0.92"/>
<path d="M673.6,925 V1044" fill="none" stroke="#141414" stroke-width="3.2" stroke-linejoin="round"/>
<path d="M673.6,925 V1044" fill="none" stroke="#fafdf9" stroke-width="1.15" stroke-linejoin="round"/>
<path d="M673.6,958.7 V1000.7" fill="none" stroke="#141414" stroke-width="6.2" stroke-linejoin="round"/>
<path d="M673.6,958.7 V1000.7" fill="none" stroke="url(#hatch)" stroke-width="4.0" stroke-linejoin="round"/>
<path d="M668.4,933.8 H674.1 V946.8 H668.4 Z" fill="#141414"/>
<path d="M674.1,934.3 L679.2,937.8 V949.8 L674.1,946.8 Z" fill="#fafdf9" stroke="#141414" stroke-width="1.09"/>
<path d="M668.6,946.8 L674.1,949.8 H679.2" fill="none" stroke="#141414" stroke-width="1.03"/>
<path d="M668.4,1011.5 H674.1 V1024.5 H668.4 Z" fill="#141414"/>
<path d="M674.1,1012 L679.2,1015.5 V1027.5 L674.1,1024.5 Z" fill="#fafdf9" stroke="#141414" stroke-width="1.09"/>
<path d="M668.6,1024.5 L674.1,1027.5 H679.2" fill="none" stroke="#141414" stroke-width="1.03"/>
<rect x="121.6" y="833.4" width="10" height="7.2" fill="#fafdf9" stroke="#141414" stroke-width="1.26"/>
<path d="M124.6,833.4 V840.6" fill="none" stroke="#141414" stroke-width="1.03" />
<path d="M105.5,941 Q111.5,951 106.5,964" fill="none" stroke="#141414" stroke-width="1.03"/>
<path d="M98.5,929 Q102,927.8 106.7,933 V968.5 Q104,973.6 100.5,973 Q95.3,968 95.3,951 Q95.3,934 98.5,929 Z" fill="#141414"/>
<path d="M106.7,959.7 H126" fill="none" stroke="#141414" stroke-width="2.6" stroke-linejoin="round"/>
<path d="M106.7,959.7 H126" fill="none" stroke="#fafdf9" stroke-width="0.7" stroke-linejoin="round"/>
<path d="M111.2,959.7 l3.2,-2.3 l3.2,2.3 l-3.2,2.3 z" fill="#141414"/>
<path d="M110,981.2 H126" fill="none" stroke="#141414" stroke-width="2.6" stroke-linejoin="round"/>
<path d="M110,981.2 H126" fill="none" stroke="#fafdf9" stroke-width="0.7" stroke-linejoin="round"/>
<path d="M114.5,981.2 l3.2,-2.3 l3.2,2.3 l-3.2,2.3 z" fill="#141414"/>
<rect x="102.4" y="973.6" width="7.6" height="18.8" fill="url(#dots)" stroke="#141414" stroke-width="1.15"/>
<path d="M131.5,1010 H175" fill="none" stroke="#141414" stroke-width="1.9" />
<path d="M141.2,1007 L144,1004.9 H163.4 L160.6,1007 Z" fill="#fafdf9" stroke="#141414" stroke-width="1.09"/>
<path d="M160.6,1007 L163.4,1004.9 V1012.6 L160.6,1015 Z" fill="#fafdf9" stroke="#141414" stroke-width="1.09"/>
<rect x="141.2" y="1007" width="19.4" height="8" fill="#fafdf9" stroke="#141414" stroke-width="1.15"/>
<rect x="71.6" y="1044.1" width="109.7" height="41.4" rx="5" fill="#161616" stroke="#141414" stroke-width="1.15"/>
<rect x="76.19999999999999" y="1048.8999999999999" width="102.3" height="33.4" rx="3.5" fill="url(#dots)" stroke="none"/>
<path d="M75.8,1079.5 V1052.6 Q75.8,1048.6999999999998 80.1,1048.6999999999998 H173.3" fill="none" stroke="#c8c8c8" stroke-width="1.03"/>
<rect x="616.2" y="1044.1" width="109.3" height="41.2" rx="5" fill="#161616" stroke="#141414" stroke-width="1.15"/>
<rect x="620.8000000000001" y="1048.8999999999999" width="101.89999999999999" height="33.2" rx="3.5" fill="url(#dots)" stroke="none"/>
<path d="M620.4000000000001,1079.3 V1052.6 Q620.4000000000001,1048.6999999999998 624.7,1048.6999999999998 H717.5" fill="none" stroke="#c8c8c8" stroke-width="1.03"/>
<g transform="" fill="#fafdf9" stroke="#141414" stroke-width="1.45" stroke-linejoin="round"><rect x="212.2" y="1035.2" width="20.7" height="2.6"/><rect x="218" y="1037.8" width="10.8" height="13.4"/><rect x="216" y="1051" width="13.6" height="6.6"/><path d="M220.5,1051 V1057.6 M225.3,1051 V1057.6" stroke-width="0.92"/><rect x="218.3" y="1057.6" width="9.3" height="5"/><path d="M194.8,957.9 L174.9,969.8 L175.8,1031.1 L194.8,1032.4 Z"/><path d="M196.8,957.9 L274.8,961.4 Q276.8,961.6 276.8,963.6 L275.2,1033.8 Q275.1,1035.8 273,1035.7 L196.8,1032.5 Q194.8,1032.4 194.8,1030.4 V959.9 Q194.8,957.9 196.8,957.9 Z" stroke-width="1.4"/><path d="M195,960.3 L276.6,964 M195,962.4 L276.5,966.2 M195,966.2 L276.3,969.6" fill="none" stroke-width="1.38"/><path d="M195,963.6 L276.4,967.4" fill="none" stroke-width="1.8"/><path d="M198,958.2 V1032.4 M272.5,969.5 L271.6,1035.4 M274.2,969.5 L273.3,1035.5" fill="none" stroke-width="1.03"/><path d="M200.6,972.3 L271,975 L270.2,1028.6 L200.6,1025.6 Z" stroke-width="2.0"/><path d="M203.1,977.3 L265.2,979.5 L265.2,1022.8 L203.1,1020.6 Z" fill="url(#mesh)" stroke-width="1.15"/><path d="M203.1,977.3 Q234,975.5 265.2,979.5" fill="none" stroke-width="1.03"/><path d="M268,976.5 V1027" fill="none" stroke-width="0.92"/></g>
<g transform="translate(829,2) scale(-1,1)" fill="#fafdf9" stroke="#141414" stroke-width="1.45" stroke-linejoin="round"><rect x="212.2" y="1035.2" width="20.7" height="2.6"/><rect x="218" y="1037.8" width="10.8" height="13.4"/><rect x="216" y="1051" width="13.6" height="6.6"/><path d="M220.5,1051 V1057.6 M225.3,1051 V1057.6" stroke-width="0.92"/><rect x="218.3" y="1057.6" width="9.3" height="5"/><path d="M194.8,957.9 L174.9,969.8 L175.8,1031.1 L194.8,1032.4 Z"/><path d="M196.8,957.9 L274.8,961.4 Q276.8,961.6 276.8,963.6 L275.2,1033.8 Q275.1,1035.8 273,1035.7 L196.8,1032.5 Q194.8,1032.4 194.8,1030.4 V959.9 Q194.8,957.9 196.8,957.9 Z" stroke-width="1.4"/><path d="M195,960.3 L276.6,964 M195,962.4 L276.5,966.2 M195,966.2 L276.3,969.6" fill="none" stroke-width="1.38"/><path d="M195,963.6 L276.4,967.4" fill="none" stroke-width="1.8"/><path d="M198,958.2 V1032.4 M272.5,969.5 L271.6,1035.4 M274.2,969.5 L273.3,1035.5" fill="none" stroke-width="1.03"/><path d="M200.6,972.3 L271,975 L270.2,1028.6 L200.6,1025.6 Z" stroke-width="2.0"/><path d="M203.1,977.3 L265.2,979.5 L265.2,1022.8 L203.1,1020.6 Z" fill="url(#mesh)" stroke-width="1.15"/><path d="M203.1,977.3 Q234,975.5 265.2,979.5" fill="none" stroke-width="1.03"/><path d="M268,976.5 V1027" fill="none" stroke-width="0.92"/></g>
<path d="M654.9,1001.5 L657.5,999.3 H667.5 V1006.8 L664.9,1009.1 H654.9 Z" fill="#fafdf9" stroke="#141414" stroke-width="1.15"/>
<path d="M654.9,1001.5 H664.9 L667.5,999.3 M664.9,1001.5 V1009.1" fill="none" stroke="#141414" stroke-width="1.03"/>
<path d="M667.5,1003 L672,1000" fill="none" stroke="#141414" stroke-width="1.6" />
<path d="M677,958.7 H734" fill="none" stroke="#141414" stroke-width="2.6" stroke-linejoin="round"/>
<path d="M677,958.7 H734" fill="none" stroke="#fafdf9" stroke-width="0.7" stroke-linejoin="round"/>
<path d="M697,958.5 L702,954.5 L712.4,957.5 L708,964.3 L699,962.5 Z" fill="#fafdf9" stroke="#141414" stroke-width="1.15"/>
<path d="M699,962.5 L703.5,958.2 L712.4,957.5 M703.5,958.2 L702,954.5" fill="none" stroke="#141414" stroke-width="0.92"/>
<path d="M733,939 L746.5,946 Q747.6,946.5 747.6,948 V977.5 Q747.6,979.5 746,979 L733.5,981 Z" fill="#141414"/>
<path d="M733.2,940.5 Q738,942 742.5,947.5 V975 Q738,978 733.8,979.5 Q730.5,960 733.2,940.5 Z" fill="#fafdf9" stroke="#141414" stroke-width="1.03"/>
<path d="M736.5,944.5 Q733.5,960 736.5,977 M739.5,947 Q737,960 739.5,975.5" fill="none" stroke="#141414" stroke-width="1.03"/>
<path d="M733,959 H742" fill="none" stroke="#141414" stroke-width="0.92" />
<path d="M309.1,904 V928.1" fill="none" stroke="#141414" stroke-width="2.0" />
<path d="M303.1,928.1 H315.1 L318.90000000000003,934.6 V938.1 L315.1,943.4 H303.1 L299.3,938.1 V934.6 Z" fill="#141414"/>
<path d="M303.90000000000003,971.4 V939.1 Q303.90000000000003,936.1 309.1,936.1 Q314.5,936.1 314.5,939.1 V971.4 Z" fill="#fafdf9" stroke="#141414" stroke-width="1.26"/>
<path d="M303.5,953.1 L314.90000000000003,952.1" stroke="#141414" stroke-width="1.49"/><path d="M303.5,955.9 L314.90000000000003,954.9" stroke="#141414" stroke-width="1.49"/><path d="M303.5,958.7 L314.90000000000003,957.7" stroke="#141414" stroke-width="1.49"/><path d="M303.5,961.5 L314.90000000000003,960.5" stroke="#141414" stroke-width="1.49"/><path d="M303.5,964.3 L314.90000000000003,963.3" stroke="#141414" stroke-width="1.49"/><path d="M303.5,967.1 L314.90000000000003,966.1" stroke="#141414" stroke-width="1.49"/><path d="M303.5,969.9 L314.90000000000003,968.9" stroke="#141414" stroke-width="1.49"/>
<path d="M305.90000000000003,971.4 V986.1 Q309.1,989.1 312.5,986.1 V971.4 Z" fill="#fafdf9" stroke="#141414" stroke-width="1.26"/>
<path d="M360.8,904 V932.5" fill="none" stroke="#141414" stroke-width="2.0" />
<path d="M354.8,932.5 H366.8 L370.6,939.0 V942.5 L366.8,947.8 H354.8 L351.0,942.5 V939.0 Z" fill="#141414"/>
<path d="M355.6,975.8 V943.5 Q355.6,940.5 360.8,940.5 Q366.2,940.5 366.2,943.5 V975.8 Z" fill="#fafdf9" stroke="#141414" stroke-width="1.26"/>
<path d="M355.2,957.5 L366.6,956.5" stroke="#141414" stroke-width="1.49"/><path d="M355.2,960.3 L366.6,959.3" stroke="#141414" stroke-width="1.49"/><path d="M355.2,963.1 L366.6,962.1" stroke="#141414" stroke-width="1.49"/><path d="M355.2,965.9 L366.6,964.9" stroke="#141414" stroke-width="1.49"/><path d="M355.2,968.7 L366.6,967.7" stroke="#141414" stroke-width="1.49"/><path d="M355.2,971.5 L366.6,970.5" stroke="#141414" stroke-width="1.49"/><path d="M355.2,974.3 L366.6,973.3" stroke="#141414" stroke-width="1.49"/>
<path d="M357.6,975.8 V990.5 Q360.8,993.5 364.2,990.5 V975.8 Z" fill="#fafdf9" stroke="#141414" stroke-width="1.26"/>
<path d="M413,904 V930.5" fill="none" stroke="#141414" stroke-width="2.0" />
<path d="M407,930.5 H419 L422.8,937.0 V940.5 L419,945.8 H407 L403.2,940.5 V937.0 Z" fill="#141414"/>
<path d="M407.8,973.8 V941.5 Q407.8,938.5 413,938.5 Q418.4,938.5 418.4,941.5 V973.8 Z" fill="#fafdf9" stroke="#141414" stroke-width="1.26"/>
<path d="M407.4,955.5 L418.8,954.5" stroke="#141414" stroke-width="1.49"/><path d="M407.4,958.3 L418.8,957.3" stroke="#141414" stroke-width="1.49"/><path d="M407.4,961.1 L418.8,960.1" stroke="#141414" stroke-width="1.49"/><path d="M407.4,963.9 L418.8,962.9" stroke="#141414" stroke-width="1.49"/><path d="M407.4,966.7 L418.8,965.7" stroke="#141414" stroke-width="1.49"/><path d="M407.4,969.5 L418.8,968.5" stroke="#141414" stroke-width="1.49"/><path d="M407.4,972.3 L418.8,971.3" stroke="#141414" stroke-width="1.49"/>
<path d="M409.8,973.8 V988.5 Q413,991.5 416.4,988.5 V973.8 Z" fill="#fafdf9" stroke="#141414" stroke-width="1.26"/>
<path d="M459,904.2 L461.4,908 H464 L466.4,904.2" fill="#141414"/>
<path d="M462.7,906 V933" fill="none" stroke="#141414" stroke-width="2.0" />
<path d="M457,976.5 L460,984 H465.5 L468.5,976.5 Z" fill="#fafdf9" stroke="#141414" stroke-width="1.26"/>
<rect x="455.1" y="933.2" width="16.3" height="3.8" fill="#fafdf9" stroke="#141414" stroke-width="1.26"/>
<rect x="455.1" y="949.8" width="16.3" height="12.7" fill="#fafdf9" stroke="#141414" stroke-width="1.26"/>
<path d="M459.3,949.8 V962.5 M467,949.8 V962.5 M455.1,955 H471.4" fill="none" stroke="#141414" stroke-width="1.03" />
<path d="M452.6,937 H473 L474.7,939 V948 L473,949.8 H452.6 L451,948 V939 Z" fill="#fafdf9" stroke="#141414" stroke-width="1.38"/>
<path d="M457.5,937 V949.8 M468.5,937 V949.8 M451,943.5 H474.7" fill="none" stroke="#141414" stroke-width="1.03" />
<path d="M450.5,962.5 H476 L478,965 V974 L476,976.5 H450.5 L448.5,974 V965 Z" fill="#fafdf9" stroke="#141414" stroke-width="1.38"/>
<path d="M456.5,962.5 V976.5 M470,962.5 V976.5" fill="none" stroke="#141414" stroke-width="1.03" />
<path d="M520,904.2 L522.6,908.5 H525 L527.6,904.2" fill="#141414"/>
<path d="M523.7,907 V984" fill="none" stroke="#141414" stroke-width="2.4" stroke-linejoin="round"/>
<path d="M523.7,907 V984" fill="none" stroke="#fafdf9" stroke-width="0.7" stroke-linejoin="round"/>
<path d="M518.0,921.0 H523.7 V934.0 H518.0 Z" fill="#141414"/>
<path d="M523.7,921.5 L528.8000000000001,925.0 V937.0 L523.7,934.0 Z" fill="#fafdf9" stroke="#141414" stroke-width="1.09"/>
<path d="M518.2,934.0 L523.7,937.0 H528.8000000000001" fill="none" stroke="#141414" stroke-width="1.03"/>
<path d="M521,1147 V1153.5 Q523.6,1155.6 526.3,1153.5 V1147 Z" fill="#fafdf9" stroke="#141414" stroke-width="1.26"/>
<path d="M514.2,1086 V1144 L517,1147.4 H530 L532.6,1144 V1086 Z" fill="#fafdf9" stroke="#141414" stroke-width="1.26"/>
<path d="M514.2,1092.0 Q523.4,1095.0 532.6,1092.0" stroke="#141414" stroke-width="1.49" fill="none"/><path d="M514.2,1095.3 Q523.4,1098.3 532.6,1095.3" stroke="#141414" stroke-width="1.49" fill="none"/><path d="M514.2,1098.7 Q523.4,1101.7 532.6,1098.7" stroke="#141414" stroke-width="1.49" fill="none"/><path d="M514.2,1102.0 Q523.4,1105.0 532.6,1102.0" stroke="#141414" stroke-width="1.49" fill="none"/><path d="M514.2,1105.4 Q523.4,1108.4 532.6,1105.4" stroke="#141414" stroke-width="1.49" fill="none"/><path d="M514.2,1108.8 Q523.4,1111.8 532.6,1108.8" stroke="#141414" stroke-width="1.49" fill="none"/><path d="M514.2,1112.1 Q523.4,1115.1 532.6,1112.1" stroke="#141414" stroke-width="1.49" fill="none"/><path d="M514.2,1115.5 Q523.4,1118.5 532.6,1115.5" stroke="#141414" stroke-width="1.49" fill="none"/><path d="M514.2,1118.8 Q523.4,1121.8 532.6,1118.8" stroke="#141414" stroke-width="1.49" fill="none"/><path d="M514.2,1122.2 Q523.4,1125.2 532.6,1122.2" stroke="#141414" stroke-width="1.49" fill="none"/><path d="M514.2,1125.5 Q523.4,1128.5 532.6,1125.5" stroke="#141414" stroke-width="1.49" fill="none"/><path d="M514.2,1128.8 Q523.4,1131.8 532.6,1128.8" stroke="#141414" stroke-width="1.49" fill="none"/><path d="M514.2,1132.2 Q523.4,1135.2 532.6,1132.2" stroke="#141414" stroke-width="1.49" fill="none"/><path d="M514.2,1135.5 Q523.4,1138.5 532.6,1135.5" stroke="#141414" stroke-width="1.49" fill="none"/><path d="M514.2,1138.9 Q523.4,1141.9 532.6,1138.9" stroke="#141414" stroke-width="1.49" fill="none"/><path d="M514.2,1142.2 Q523.4,1145.2 532.6,1142.2" stroke="#141414" stroke-width="1.49" fill="none"/>
<path d="M508.4,1030 V1085.7 A15.5,5 0 0 0 539.4,1085.7 V1030 Z" fill="#fafdf9" stroke="#141414" stroke-width="1.38"/>
<path d="M505.7,1011.7 V1033 A18.15,5.5 0 0 0 542,1033 V1011.7 A18.15,5 0 0 0 505.7,1011.7 Z" fill="#fafdf9" stroke="#141414" stroke-width="1.38"/>
<path d="M505.7,1011.7 A18.15,5 0 0 0 542,1011.7" fill="none" stroke="#141414" stroke-width="1.26"/>
<path d="M513.6,983.6 V1012 A10.4,3.6 0 0 0 534.4,1012 V983.6 A10.4,4.3 0 0 0 513.6,983.6 Z" fill="#fafdf9" stroke="#141414" stroke-width="1.38"/>
<path d="M513.6,983.6 A10.4,4.3 0 0 0 534.4,983.6" fill="none" stroke="#141414" stroke-width="1.26"/>
<path d="M521,986.8 L530.5,981.2" fill="none" stroke="#141414" stroke-width="1.49" />
<path d="M523.7,975 V983.5" fill="none" stroke="#141414" stroke-width="2.4" stroke-linejoin="round"/>
<path d="M523.7,975 V983.5" fill="none" stroke="#fafdf9" stroke-width="0.7" stroke-linejoin="round"/>
<g fill="none" stroke="#141414" stroke-width="1.4" stroke-linecap="round" stroke-linejoin="round"><path transform="translate(374.90,47.00) scale(1.03,0.955)" d="M1.0,3.9 L4.3,0 L4.3,13"/></g>
<path d="M359,64 L386,64 M359,64 L322,190" fill="none" stroke="#141414" stroke-width="1.38"/>
<circle cx="322" cy="190" r="1.1" fill="#555"/>
<g fill="none" stroke="#141414" stroke-width="1.4" stroke-linecap="round" stroke-linejoin="round"><path transform="translate(629.90,47.00) scale(1.03,0.955)" d="M0.5,3.1 C0.5,1.1 1.6,0 3.5,0 C5.4,0 6.5,1.1 6.5,3.1 C6.5,5 5.4,6.4 0.4,13 L6.8,13"/></g>
<path d="M616,64 L642,64 M616,64 L594.5,172.5" fill="none" stroke="#141414" stroke-width="1.38"/>
<circle cx="594.5" cy="172.5" r="1.1" fill="#555"/>
<g fill="none" stroke="#141414" stroke-width="1.4" stroke-linecap="round" stroke-linejoin="round"><path transform="translate(698.40,47.00) scale(1.03,0.955)" d="M0.6,0 L6.4,0 L3.1,5.4 C5.5,5.4 6.6,7 6.6,9.2 C6.6,11.6 5.5,13 3.4,13 C1.7,13 0.6,12 0.3,10.3"/></g>
<path d="M684.5,64 L710.5,64 M684.5,64 L624.5,287" fill="none" stroke="#141414" stroke-width="1.38"/>
<circle cx="624.5" cy="287" r="1.1" fill="#555"/>
<g fill="none" stroke="#141414" stroke-width="1.4" stroke-linecap="round" stroke-linejoin="round"><path transform="translate(164.40,298.00) scale(1.03,0.955)" d="M4.4,0 L0.3,9.4 L6.9,9.4 M5.2,5.2 L5.2,13"/></g>
<path d="M150,315 L177,315 M150,315 L124,398" fill="none" stroke="#141414" stroke-width="1.38"/>
<circle cx="124" cy="398" r="1.1" fill="#555"/>
<g fill="none" stroke="#141414" stroke-width="1.4" stroke-linecap="round" stroke-linejoin="round"><path transform="translate(248.40,298.00) scale(1.03,0.955)" d="M6.2,0 L1.0,0 L0.6,5.9 C1.5,5.1 2.5,4.8 3.6,4.8 C5.6,4.8 6.6,6.4 6.6,8.8 C6.6,11.4 5.5,13 3.4,13 C1.7,13 0.6,12 0.3,10.4"/></g>
<path d="M234,315 L261,315 M234,315 L215,398" fill="none" stroke="#141414" stroke-width="1.38"/>
<circle cx="215" cy="398" r="1.1" fill="#555"/>
<g fill="none" stroke="#141414" stroke-width="1.4" stroke-linecap="round" stroke-linejoin="round"><path transform="translate(391.40,298.00) scale(1.03,0.955)" d="M6.2,1.7 C5.6,0.5 4.8,0 3.6,0 C1.5,0 0.4,1.6 0.4,4 L0.4,9.3 C0.4,11.6 1.5,13 3.5,13 C5.5,13 6.6,11.6 6.6,9.2 C6.6,6.8 5.5,5.4 3.5,5.4 C2,5.4 0.9,6.3 0.4,7.8"/></g>
<path d="M377,315 L404,315 M377,315 L352.5,398" fill="none" stroke="#141414" stroke-width="1.38"/>
<circle cx="352.5" cy="398" r="1.1" fill="#555"/>
<g fill="none" stroke="#141414" stroke-width="1.4" stroke-linecap="round" stroke-linejoin="round"><path transform="translate(445.90,298.00) scale(1.03,0.955)" d="M0.3,0 L6.7,0 L2.4,13"/></g>
<path d="M432,315 L458.5,315 M432,315 L399.5,437.5" fill="none" stroke="#141414" stroke-width="1.38"/>
<circle cx="399.5" cy="437.5" r="1.1" fill="#555"/>
<g fill="none" stroke="#141414" stroke-width="1.4" stroke-linecap="round" stroke-linejoin="round"><path transform="translate(490.90,298.00) scale(1.03,0.955)" d="M3.5,0 C1.7,0 0.9,1.2 0.9,3 C0.9,4.8 1.8,6 3.5,6 C5.2,6 6.1,4.8 6.1,3 C6.1,1.2 5.3,0 3.5,0 Z M3.5,6 C1.5,6 0.4,7.4 0.4,9.5 C0.4,11.6 1.5,13 3.5,13 C5.5,13 6.6,11.6 6.6,9.5 C6.6,7.4 5.5,6 3.5,6 Z"/></g>
<path d="M477,315 L503,315 M477,315 L451,402.5" fill="none" stroke="#141414" stroke-width="1.38"/>
<circle cx="451" cy="402.5" r="1.1" fill="#555"/>
<g fill="none" stroke="#141414" stroke-width="1.4" stroke-linecap="round" stroke-linejoin="round"><path transform="translate(528.40,298.00) scale(1.03,0.955)" d="M0.8,11.3 C1.4,12.5 2.2,13 3.4,13 C5.5,13 6.6,11.4 6.6,9 L6.6,3.7 C6.6,1.4 5.5,0 3.5,0 C1.5,0 0.4,1.4 0.4,3.8 C0.4,6.2 1.5,7.6 3.5,7.6 C5,7.6 6.1,6.7 6.6,5.2"/></g>
<path d="M514.5,315 L541,315 M514.5,315 L458.5,469" fill="none" stroke="#141414" stroke-width="1.38"/>
<circle cx="458.5" cy="469" r="1.1" fill="#555"/>
<g fill="none" stroke="#141414" stroke-width="1.4" stroke-linecap="round" stroke-linejoin="round"><path transform="translate(587.10,298.00) scale(1.03,0.955)" d="M1.0,3.9 L4.3,0 L4.3,13"/><path transform="translate(593.70,298.00) scale(1.03,0.955)" d="M3.5,0 C1.3,0 0.4,1.5 0.4,3.6 L0.4,9.4 C0.4,11.5 1.3,13 3.5,13 C5.7,13 6.6,11.5 6.6,9.4 L6.6,3.6 C6.6,1.5 5.7,0 3.5,0 Z"/></g>
<path d="M576.6,315 L604,315 M576.6,315 L544.5,412.5" fill="none" stroke="#141414" stroke-width="1.38"/>
<circle cx="544.5" cy="412.5" r="1.1" fill="#555"/>
<g fill="none" stroke="#141414" stroke-width="1.4" stroke-linecap="round" stroke-linejoin="round"><path transform="translate(696.30,298.00) scale(1.03,0.955)" d="M1.0,3.9 L4.3,0 L4.3,13"/><path transform="translate(702.90,298.00) scale(1.03,0.955)" d="M1.0,3.9 L4.3,0 L4.3,13"/></g>
<path d="M684.5,315 L710.5,315 M684.5,315 L634.5,441.5" fill="none" stroke="#141414" stroke-width="1.38"/>
<circle cx="634.5" cy="441.5" r="1.1" fill="#555"/>
<g fill="none" stroke="#141414" stroke-width="1.4" stroke-linecap="round" stroke-linejoin="round"><path transform="translate(661.60,509.50) scale(1.03,0.955)" d="M1.0,3.9 L4.3,0 L4.3,13"/><path transform="translate(668.20,509.50) scale(1.03,0.955)" d="M4.4,0 L0.3,9.4 L6.9,9.4 M5.2,5.2 L5.2,13"/></g>
<path d="M651,526.5 L678,526.5 M651,526.5 L623.5,582.5" fill="none" stroke="#141414" stroke-width="1.38"/>
<circle cx="623.5" cy="582.5" r="1.1" fill="#555"/>
<g fill="none" stroke="#141414" stroke-width="1.4" stroke-linecap="round" stroke-linejoin="round"><path transform="translate(137.70,542.50) scale(1.03,0.955)" d="M1.0,3.9 L4.3,0 L4.3,13"/><path transform="translate(144.30,542.50) scale(1.03,0.955)" d="M6.2,0 L1.0,0 L0.6,5.9 C1.5,5.1 2.5,4.8 3.6,4.8 C5.6,4.8 6.6,6.4 6.6,8.8 C6.6,11.4 5.5,13 3.4,13 C1.7,13 0.6,12 0.3,10.4"/></g>
<path d="M127.6,559.5 L153.4,559.5 M127.6,559.5 L107,597" fill="none" stroke="#141414" stroke-width="1.38"/>
<circle cx="107" cy="597" r="1.1" fill="#555"/>
<g fill="none" stroke="#141414" stroke-width="1.4" stroke-linecap="round" stroke-linejoin="round"><path transform="translate(205.90,542.50) scale(1.03,0.955)" d="M1.0,3.9 L4.3,0 L4.3,13"/><path transform="translate(212.50,542.50) scale(1.03,0.955)" d="M6.2,1.7 C5.6,0.5 4.8,0 3.6,0 C1.5,0 0.4,1.6 0.4,4 L0.4,9.3 C0.4,11.6 1.5,13 3.5,13 C5.5,13 6.6,11.6 6.6,9.2 C6.6,6.8 5.5,5.4 3.5,5.4 C2,5.4 0.9,6.3 0.4,7.8"/></g>
<path d="M195,559.5 L221.5,559.5 M195,559.5 L178.6,642" fill="none" stroke="#141414" stroke-width="1.38"/>
<circle cx="178.6" cy="642" r="1.1" fill="#555"/>
<g fill="none" stroke="#141414" stroke-width="1.4" stroke-linecap="round" stroke-linejoin="round"><path transform="translate(306.60,542.50) scale(1.03,0.955)" d="M1.0,3.9 L4.3,0 L4.3,13"/><path transform="translate(313.20,542.50) scale(1.03,0.955)" d="M0.3,0 L6.7,0 L2.4,13"/></g>
<path d="M295,559.5 L323,559.5 M295,559.5 L277,598" fill="none" stroke="#141414" stroke-width="1.38"/>
<circle cx="277" cy="598" r="1.1" fill="#555"/>
<g fill="none" stroke="#141414" stroke-width="1.4" stroke-linecap="round" stroke-linejoin="round"><path transform="translate(331.60,621.60) scale(1.03,0.955)" d="M1.0,3.9 L4.3,0 L4.3,13"/><path transform="translate(338.20,621.60) scale(1.03,0.955)" d="M0.8,11.3 C1.4,12.5 2.2,13 3.4,13 C5.5,13 6.6,11.4 6.6,9 L6.6,3.7 C6.6,1.4 5.5,0 3.5,0 C1.5,0 0.4,1.4 0.4,3.8 C0.4,6.2 1.5,7.6 3.5,7.6 C5,7.6 6.1,6.7 6.6,5.2"/></g>
<path d="M322.5,638.6 L350,638.6 M322.5,638.6 L300,702" fill="none" stroke="#141414" stroke-width="1.38"/>
<circle cx="300" cy="702" r="1.1" fill="#555"/>
<g fill="none" stroke="#141414" stroke-width="1.4" stroke-linecap="round" stroke-linejoin="round"><path transform="translate(496.40,621.60) scale(1.03,0.955)" d="M0.5,3.1 C0.5,1.1 1.6,0 3.5,0 C5.4,0 6.5,1.1 6.5,3.1 C6.5,5 5.4,6.4 0.4,13 L6.8,13"/><path transform="translate(505.40,621.60) scale(1.03,0.955)" d="M3.5,0 C1.3,0 0.4,1.5 0.4,3.6 L0.4,9.4 C0.4,11.5 1.3,13 3.5,13 C5.7,13 6.6,11.5 6.6,9.4 L6.6,3.6 C6.6,1.5 5.7,0 3.5,0 Z"/></g>
<path d="M486,638.6 L513,638.6 M486,638.6 L466,708.5" fill="none" stroke="#141414" stroke-width="1.38"/>
<circle cx="466" cy="708.5" r="1.1" fill="#555"/>
<g fill="none" stroke="#141414" stroke-width="1.4" stroke-linecap="round" stroke-linejoin="round"><path transform="translate(570.10,621.60) scale(1.03,0.955)" d="M0.5,3.1 C0.5,1.1 1.6,0 3.5,0 C5.4,0 6.5,1.1 6.5,3.1 C6.5,5 5.4,6.4 0.4,13 L6.8,13"/><path transform="translate(579.10,621.60) scale(1.03,0.955)" d="M1.0,3.9 L4.3,0 L4.3,13"/></g>
<path d="M559.5,638.6 L586,638.6 M559.5,638.6 L545.5,674.5" fill="none" stroke="#141414" stroke-width="1.38"/>
<circle cx="545.5" cy="674.5" r="1.1" fill="#555"/>
<g fill="none" stroke="#141414" stroke-width="1.4" stroke-linecap="round" stroke-linejoin="round"><path transform="translate(667.90,621.60) scale(1.03,0.955)" d="M0.5,3.1 C0.5,1.1 1.6,0 3.5,0 C5.4,0 6.5,1.1 6.5,3.1 C6.5,5 5.4,6.4 0.4,13 L6.8,13"/><path transform="translate(676.90,621.60) scale(1.03,0.955)" d="M0.5,3.1 C0.5,1.1 1.6,0 3.5,0 C5.4,0 6.5,1.1 6.5,3.1 C6.5,5 5.4,6.4 0.4,13 L6.8,13"/></g>
<path d="M658.5,638.6 L685.5,638.6 M658.5,638.6 L636,708.5" fill="none" stroke="#141414" stroke-width="1.38"/>
<circle cx="636" cy="708.5" r="1.1" fill="#555"/>
<g fill="none" stroke="#141414" stroke-width="1.4" stroke-linecap="round" stroke-linejoin="round"><path transform="translate(716.40,621.60) scale(1.03,0.955)" d="M0.5,3.1 C0.5,1.1 1.6,0 3.5,0 C5.4,0 6.5,1.1 6.5,3.1 C6.5,5 5.4,6.4 0.4,13 L6.8,13"/><path transform="translate(725.40,621.60) scale(1.03,0.955)" d="M0.6,0 L6.4,0 L3.1,5.4 C5.5,5.4 6.6,7 6.6,9.2 C6.6,11.6 5.5,13 3.4,13 C1.7,13 0.6,12 0.3,10.3"/></g>
<path d="M708,638.6 L734.5,638.6 M708,638.6 L664.5,747" fill="none" stroke="#141414" stroke-width="1.38"/>
<circle cx="664.5" cy="747" r="1.1" fill="#555"/>
<g fill="none" stroke="#141414" stroke-width="1.4" stroke-linecap="round" stroke-linejoin="round"><path transform="translate(35.90,871.30) scale(1.03,0.955)" d="M0.5,3.1 C0.5,1.1 1.6,0 3.5,0 C5.4,0 6.5,1.1 6.5,3.1 C6.5,5 5.4,6.4 0.4,13 L6.8,13"/><path transform="translate(44.90,871.30) scale(1.03,0.955)" d="M4.4,0 L0.3,9.4 L6.9,9.4 M5.2,5.2 L5.2,13"/></g>
<path d="M35,888.3 L60,888.3 M60,888.3 L102.5,929.5" fill="none" stroke="#141414" stroke-width="1.38"/>
<circle cx="102.5" cy="929.5" r="1.1" fill="#555"/>
<g fill="none" stroke="#141414" stroke-width="1.4" stroke-linecap="round" stroke-linejoin="round"><path transform="translate(80.90,871.30) scale(1.03,0.955)" d="M0.5,3.1 C0.5,1.1 1.6,0 3.5,0 C5.4,0 6.5,1.1 6.5,3.1 C6.5,5 5.4,6.4 0.4,13 L6.8,13"/><path transform="translate(89.90,871.30) scale(1.03,0.955)" d="M6.2,0 L1.0,0 L0.6,5.9 C1.5,5.1 2.5,4.8 3.6,4.8 C5.6,4.8 6.6,6.4 6.6,8.8 C6.6,11.4 5.5,13 3.4,13 C1.7,13 0.6,12 0.3,10.4"/></g>
<path d="M79,888.3 L106,888.3 M106,888.3 L122.5,837" fill="none" stroke="#141414" stroke-width="1.38"/>
<circle cx="122.5" cy="837" r="1.1" fill="#555"/>
<g fill="none" stroke="#141414" stroke-width="1.4" stroke-linecap="round" stroke-linejoin="round"><path transform="translate(139.40,871.30) scale(1.03,0.955)" d="M0.5,3.1 C0.5,1.1 1.6,0 3.5,0 C5.4,0 6.5,1.1 6.5,3.1 C6.5,5 5.4,6.4 0.4,13 L6.8,13"/><path transform="translate(148.40,871.30) scale(1.03,0.955)" d="M6.2,1.7 C5.6,0.5 4.8,0 3.6,0 C1.5,0 0.4,1.6 0.4,4 L0.4,9.3 C0.4,11.6 1.5,13 3.5,13 C5.5,13 6.6,11.6 6.6,9.2 C6.6,6.8 5.5,5.4 3.5,5.4 C2,5.4 0.9,6.3 0.4,7.8"/></g>
<path d="M137.5,888.3 L165,888.3 M165,888.3 L181,822" fill="none" stroke="#141414" stroke-width="1.38"/>
<circle cx="181" cy="822" r="1.1" fill="#555"/>
<g fill="none" stroke="#141414" stroke-width="1.4" stroke-linecap="round" stroke-linejoin="round"><path transform="translate(184.40,871.30) scale(1.03,0.955)" d="M0.5,3.1 C0.5,1.1 1.6,0 3.5,0 C5.4,0 6.5,1.1 6.5,3.1 C6.5,5 5.4,6.4 0.4,13 L6.8,13"/><path transform="translate(193.40,871.30) scale(1.03,0.955)" d="M0.3,0 L6.7,0 L2.4,13"/></g>
<path d="M182.5,888.3 L209,888.3 M209,888.3 L221.5,816" fill="none" stroke="#141414" stroke-width="1.38"/>
<circle cx="221.5" cy="816" r="1.1" fill="#555"/>
<g fill="none" stroke="#141414" stroke-width="1.4" stroke-linecap="round" stroke-linejoin="round"><path transform="translate(227.90,871.30) scale(1.03,0.955)" d="M0.5,3.1 C0.5,1.1 1.6,0 3.5,0 C5.4,0 6.5,1.1 6.5,3.1 C6.5,5 5.4,6.4 0.4,13 L6.8,13"/><path transform="translate(236.90,871.30) scale(1.03,0.955)" d="M3.5,0 C1.7,0 0.9,1.2 0.9,3 C0.9,4.8 1.8,6 3.5,6 C5.2,6 6.1,4.8 6.1,3 C6.1,1.2 5.3,0 3.5,0 Z M3.5,6 C1.5,6 0.4,7.4 0.4,9.5 C0.4,11.6 1.5,13 3.5,13 C5.5,13 6.6,11.6 6.6,9.5 C6.6,7.4 5.5,6 3.5,6 Z"/></g>
<path d="M226,888.3 L252.5,888.3 M252.5,888.3 L264,822" fill="none" stroke="#141414" stroke-width="1.38"/>
<circle cx="264" cy="822" r="1.1" fill="#555"/>
<g fill="none" stroke="#141414" stroke-width="1.4" stroke-linecap="round" stroke-linejoin="round"><path transform="translate(269.40,871.30) scale(1.03,0.955)" d="M0.5,3.1 C0.5,1.1 1.6,0 3.5,0 C5.4,0 6.5,1.1 6.5,3.1 C6.5,5 5.4,6.4 0.4,13 L6.8,13"/><path transform="translate(278.40,871.30) scale(1.03,0.955)" d="M0.8,11.3 C1.4,12.5 2.2,13 3.4,13 C5.5,13 6.6,11.4 6.6,9 L6.6,3.7 C6.6,1.4 5.5,0 3.5,0 C1.5,0 0.4,1.4 0.4,3.8 C0.4,6.2 1.5,7.6 3.5,7.6 C5,7.6 6.1,6.7 6.6,5.2"/></g>
<path d="M267.5,888.3 L294,888.3 M294,888.3 L307,819.5" fill="none" stroke="#141414" stroke-width="1.38"/>
<circle cx="307" cy="819.5" r="1.1" fill="#555"/>
<g fill="none" stroke="#141414" stroke-width="1.4" stroke-linecap="round" stroke-linejoin="round"><path transform="translate(329.40,871.30) scale(1.03,0.955)" d="M0.6,0 L6.4,0 L3.1,5.4 C5.5,5.4 6.6,7 6.6,9.2 C6.6,11.6 5.5,13 3.4,13 C1.7,13 0.6,12 0.3,10.3"/><path transform="translate(338.40,871.30) scale(1.03,0.955)" d="M3.5,0 C1.3,0 0.4,1.5 0.4,3.6 L0.4,9.4 C0.4,11.5 1.3,13 3.5,13 C5.7,13 6.6,11.5 6.6,9.4 L6.6,3.6 C6.6,1.5 5.7,0 3.5,0 Z"/></g>
<path d="M327.5,888.3 L354,888.3 M354,888.3 L367.5,822" fill="none" stroke="#141414" stroke-width="1.38"/>
<circle cx="367.5" cy="822" r="1.1" fill="#555"/>
<g fill="none" stroke="#141414" stroke-width="1.4" stroke-linecap="round" stroke-linejoin="round"><path transform="translate(391.10,871.30) scale(1.03,0.955)" d="M0.6,0 L6.4,0 L3.1,5.4 C5.5,5.4 6.6,7 6.6,9.2 C6.6,11.6 5.5,13 3.4,13 C1.7,13 0.6,12 0.3,10.3"/><path transform="translate(400.10,871.30) scale(1.03,0.955)" d="M1.0,3.9 L4.3,0 L4.3,13"/></g>
<path d="M388,888.3 L414.5,888.3 M414.5,888.3 L428,822" fill="none" stroke="#141414" stroke-width="1.38"/>
<circle cx="428" cy="822" r="1.1" fill="#555"/>
<g fill="none" stroke="#141414" stroke-width="1.4" stroke-linecap="round" stroke-linejoin="round"><path transform="translate(452.40,871.30) scale(1.03,0.955)" d="M0.6,0 L6.4,0 L3.1,5.4 C5.5,5.4 6.6,7 6.6,9.2 C6.6,11.6 5.5,13 3.4,13 C1.7,13 0.6,12 0.3,10.3"/><path transform="translate(461.40,871.30) scale(1.03,0.955)" d="M0.5,3.1 C0.5,1.1 1.6,0 3.5,0 C5.4,0 6.5,1.1 6.5,3.1 C6.5,5 5.4,6.4 0.4,13 L6.8,13"/></g>
<path d="M451,888.3 L477,888.3 M477,888.3 L489.5,822" fill="none" stroke="#141414" stroke-width="1.38"/>
<circle cx="489.5" cy="822" r="1.1" fill="#555"/>
<g fill="none" stroke="#141414" stroke-width="1.4" stroke-linecap="round" stroke-linejoin="round"><path transform="translate(563.90,871.30) scale(1.03,0.955)" d="M0.6,0 L6.4,0 L3.1,5.4 C5.5,5.4 6.6,7 6.6,9.2 C6.6,11.6 5.5,13 3.4,13 C1.7,13 0.6,12 0.3,10.3"/><path transform="translate(572.90,871.30) scale(1.03,0.955)" d="M0.6,0 L6.4,0 L3.1,5.4 C5.5,5.4 6.6,7 6.6,9.2 C6.6,11.6 5.5,13 3.4,13 C1.7,13 0.6,12 0.3,10.3"/></g>
<path d="M562,888.3 L588.5,888.3 M588.5,888.3 L601,850.5" fill="none" stroke="#141414" stroke-width="1.38"/>
<circle cx="601" cy="850.5" r="1.1" fill="#555"/>
<g fill="none" stroke="#141414" stroke-width="1.4" stroke-linecap="round" stroke-linejoin="round"><path transform="translate(616.40,871.30) scale(1.03,0.955)" d="M0.6,0 L6.4,0 L3.1,5.4 C5.5,5.4 6.6,7 6.6,9.2 C6.6,11.6 5.5,13 3.4,13 C1.7,13 0.6,12 0.3,10.3"/><path transform="translate(625.40,871.30) scale(1.03,0.955)" d="M4.4,0 L0.3,9.4 L6.9,9.4 M5.2,5.2 L5.2,13"/></g>
<path d="M614.5,888.3 L640.5,888.3 M640.5,888.3 L656,852" fill="none" stroke="#141414" stroke-width="1.38"/>
<circle cx="656" cy="852" r="1.1" fill="#555"/>
<g fill="none" stroke="#141414" stroke-width="1.4" stroke-linecap="round" stroke-linejoin="round"><path transform="translate(682.40,871.30) scale(1.03,0.955)" d="M0.6,0 L6.4,0 L3.1,5.4 C5.5,5.4 6.6,7 6.6,9.2 C6.6,11.6 5.5,13 3.4,13 C1.7,13 0.6,12 0.3,10.3"/><path transform="translate(691.40,871.30) scale(1.03,0.955)" d="M6.2,0 L1.0,0 L0.6,5.9 C1.5,5.1 2.5,4.8 3.6,4.8 C5.6,4.8 6.6,6.4 6.6,8.8 C6.6,11.4 5.5,13 3.4,13 C1.7,13 0.6,12 0.3,10.4"/></g>
<path d="M681,888.3 L707,888.3 M707,888.3 L736,837" fill="none" stroke="#141414" stroke-width="1.38"/>
<circle cx="736" cy="837" r="1.1" fill="#555"/>
<g fill="none" stroke="#141414" stroke-width="1.4" stroke-linecap="round" stroke-linejoin="round"><path transform="translate(737.90,871.30) scale(1.03,0.955)" d="M0.6,0 L6.4,0 L3.1,5.4 C5.5,5.4 6.6,7 6.6,9.2 C6.6,11.6 5.5,13 3.4,13 C1.7,13 0.6,12 0.3,10.3"/><path transform="translate(746.90,871.30) scale(1.03,0.955)" d="M6.2,1.7 C5.6,0.5 4.8,0 3.6,0 C1.5,0 0.4,1.6 0.4,4 L0.4,9.3 C0.4,11.6 1.5,13 3.5,13 C5.5,13 6.6,11.6 6.6,9.2 C6.6,6.8 5.5,5.4 3.5,5.4 C2,5.4 0.9,6.3 0.4,7.8"/></g>
<path d="M729.5,888.3 L756,888.3 M729.5,888.3 L674.5,974.5" fill="none" stroke="#141414" stroke-width="1.38"/>
<circle cx="674.5" cy="974.5" r="1.1" fill="#555"/>
<g fill="none" stroke="#141414" stroke-width="1.4" stroke-linecap="round" stroke-linejoin="round"><path transform="translate(29.90,1149.30) scale(1.03,0.955)" d="M0.6,0 L6.4,0 L3.1,5.4 C5.5,5.4 6.6,7 6.6,9.2 C6.6,11.6 5.5,13 3.4,13 C1.7,13 0.6,12 0.3,10.3"/><path transform="translate(38.90,1149.30) scale(1.03,0.955)" d="M0.3,0 L6.7,0 L2.4,13"/></g>
<path d="M27.5,1166.3 L54,1166.3 M54,1166.3 L107,984" fill="none" stroke="#141414" stroke-width="1.38"/>
<circle cx="107" cy="984" r="1.1" fill="#555"/>
<g fill="none" stroke="#141414" stroke-width="1.4" stroke-linecap="round" stroke-linejoin="round"><path transform="translate(66.90,1149.30) scale(1.03,0.955)" d="M0.6,0 L6.4,0 L3.1,5.4 C5.5,5.4 6.6,7 6.6,9.2 C6.6,11.6 5.5,13 3.4,13 C1.7,13 0.6,12 0.3,10.3"/><path transform="translate(75.90,1149.30) scale(1.03,0.955)" d="M3.5,0 C1.7,0 0.9,1.2 0.9,3 C0.9,4.8 1.8,6 3.5,6 C5.2,6 6.1,4.8 6.1,3 C6.1,1.2 5.3,0 3.5,0 Z M3.5,6 C1.5,6 0.4,7.4 0.4,9.5 C0.4,11.6 1.5,13 3.5,13 C5.5,13 6.6,11.6 6.6,9.5 C6.6,7.4 5.5,6 3.5,6 Z"/></g>
<path d="M65,1166.3 L91.5,1166.3 M91.5,1166.3 L125,1010" fill="none" stroke="#141414" stroke-width="1.38"/>
<circle cx="125" cy="1010" r="1.1" fill="#555"/>
<g fill="none" stroke="#141414" stroke-width="1.4" stroke-linecap="round" stroke-linejoin="round"><path transform="translate(109.40,1149.30) scale(1.03,0.955)" d="M0.6,0 L6.4,0 L3.1,5.4 C5.5,5.4 6.6,7 6.6,9.2 C6.6,11.6 5.5,13 3.4,13 C1.7,13 0.6,12 0.3,10.3"/><path transform="translate(118.40,1149.30) scale(1.03,0.955)" d="M0.8,11.3 C1.4,12.5 2.2,13 3.4,13 C5.5,13 6.6,11.4 6.6,9 L6.6,3.7 C6.6,1.4 5.5,0 3.5,0 C1.5,0 0.4,1.4 0.4,3.8 C0.4,6.2 1.5,7.6 3.5,7.6 C5,7.6 6.1,6.7 6.6,5.2"/></g>
<path d="M107.5,1166.3 L135,1166.3 M135,1166.3 L152.5,1084.5" fill="none" stroke="#141414" stroke-width="1.38"/>
<circle cx="152.5" cy="1084.5" r="1.1" fill="#555"/>
<g fill="none" stroke="#141414" stroke-width="1.4" stroke-linecap="round" stroke-linejoin="round"><path transform="translate(191.90,1149.30) scale(1.03,0.955)" d="M4.4,0 L0.3,9.4 L6.9,9.4 M5.2,5.2 L5.2,13"/><path transform="translate(200.90,1149.30) scale(1.03,0.955)" d="M3.5,0 C1.3,0 0.4,1.5 0.4,3.6 L0.4,9.4 C0.4,11.5 1.3,13 3.5,13 C5.7,13 6.6,11.5 6.6,9.4 L6.6,3.6 C6.6,1.5 5.7,0 3.5,0 Z"/></g>
<path d="M190,1166.3 L216.5,1166.3 M216.5,1166.3 L255,1010" fill="none" stroke="#141414" stroke-width="1.38"/>
<circle cx="255" cy="1010" r="1.1" fill="#555"/>
<g fill="none" stroke="#141414" stroke-width="1.4" stroke-linecap="round" stroke-linejoin="round"><path transform="translate(244.10,1149.30) scale(1.03,0.955)" d="M4.4,0 L0.3,9.4 L6.9,9.4 M5.2,5.2 L5.2,13"/><path transform="translate(253.10,1149.30) scale(1.03,0.955)" d="M1.0,3.9 L4.3,0 L4.3,13"/></g>
<path d="M241,1166.3 L267.5,1166.3 M267.5,1166.3 L308.5,947" fill="none" stroke="#141414" stroke-width="1.38"/>
<circle cx="308.5" cy="947" r="1.1" fill="#555"/>
<g fill="none" stroke="#141414" stroke-width="1.4" stroke-linecap="round" stroke-linejoin="round"><path transform="translate(290.90,1149.30) scale(1.03,0.955)" d="M4.4,0 L0.3,9.4 L6.9,9.4 M5.2,5.2 L5.2,13"/><path transform="translate(299.90,1149.30) scale(1.03,0.955)" d="M0.5,3.1 C0.5,1.1 1.6,0 3.5,0 C5.4,0 6.5,1.1 6.5,3.1 C6.5,5 5.4,6.4 0.4,13 L6.8,13"/></g>
<path d="M289,1166.3 L316,1166.3 M316,1166.3 L360,949.5" fill="none" stroke="#141414" stroke-width="1.38"/>
<circle cx="360" cy="949.5" r="1.1" fill="#555"/>
<g fill="none" stroke="#141414" stroke-width="1.4" stroke-linecap="round" stroke-linejoin="round"><path transform="translate(341.90,1149.30) scale(1.03,0.955)" d="M4.4,0 L0.3,9.4 L6.9,9.4 M5.2,5.2 L5.2,13"/><path transform="translate(350.90,1149.30) scale(1.03,0.955)" d="M0.6,0 L6.4,0 L3.1,5.4 C5.5,5.4 6.6,7 6.6,9.2 C6.6,11.6 5.5,13 3.4,13 C1.7,13 0.6,12 0.3,10.3"/></g>
<path d="M340,1166.3 L367.5,1166.3 M367.5,1166.3 L412,947" fill="none" stroke="#141414" stroke-width="1.38"/>
<circle cx="412" cy="947" r="1.1" fill="#555"/>
<g fill="none" stroke="#141414" stroke-width="1.4" stroke-linecap="round" stroke-linejoin="round"><path transform="translate(402.90,1149.30) scale(1.03,0.955)" d="M4.4,0 L0.3,9.4 L6.9,9.4 M5.2,5.2 L5.2,13"/><path transform="translate(411.90,1149.30) scale(1.03,0.955)" d="M4.4,0 L0.3,9.4 L6.9,9.4 M5.2,5.2 L5.2,13"/></g>
<path d="M401,1166.3 L428,1166.3 M428,1166.3 L462,969.5" fill="none" stroke="#141414" stroke-width="1.38"/>
<circle cx="462" cy="969.5" r="1.1" fill="#555"/>
<g fill="none" stroke="#141414" stroke-width="1.4" stroke-linecap="round" stroke-linejoin="round"><path transform="translate(476.40,1149.30) scale(1.03,0.955)" d="M4.4,0 L0.3,9.4 L6.9,9.4 M5.2,5.2 L5.2,13"/><path transform="translate(485.40,1149.30) scale(1.03,0.955)" d="M6.2,0 L1.0,0 L0.6,5.9 C1.5,5.1 2.5,4.8 3.6,4.8 C5.6,4.8 6.6,6.4 6.6,8.8 C6.6,11.4 5.5,13 3.4,13 C1.7,13 0.6,12 0.3,10.4"/></g>
<path d="M474.5,1166.3 L502,1166.3 M502,1166.3 L523,1079.5" fill="none" stroke="#141414" stroke-width="1.38"/>
<circle cx="523" cy="1079.5" r="1.1" fill="#555"/>
<g fill="none" stroke="#141414" stroke-width="1.4" stroke-linecap="round" stroke-linejoin="round"><path transform="translate(392.90,511.10) scale(1.03,0.955)" d="M1.0,3.9 L4.3,0 L4.3,13"/><path transform="translate(399.50,511.10) scale(1.03,0.955)" d="M0.5,3.1 C0.5,1.1 1.6,0 3.5,0 C5.4,0 6.5,1.1 6.5,3.1 C6.5,5 5.4,6.4 0.4,13 L6.8,13"/></g>
<g fill="none" stroke="#141414" stroke-width="1.4" stroke-linecap="round" stroke-linejoin="round"><path transform="translate(433.30,511.10) scale(1.03,0.955)" d="M1.0,3.9 L4.3,0 L4.3,13"/><path transform="translate(439.90,511.10) scale(1.03,0.955)" d="M0.6,0 L6.4,0 L3.1,5.4 C5.5,5.4 6.6,7 6.6,9.2 C6.6,11.6 5.5,13 3.4,13 C1.7,13 0.6,12 0.3,10.3"/></g>
<g fill="none" stroke="#141414" stroke-width="1.4" stroke-linecap="round" stroke-linejoin="round"><path transform="translate(443.60,542.30) scale(1.03,0.955)" d="M1.0,3.9 L4.3,0 L4.3,13"/><path transform="translate(450.20,542.30) scale(1.03,0.955)" d="M3.5,0 C1.7,0 0.9,1.2 0.9,3 C0.9,4.8 1.8,6 3.5,6 C5.2,6 6.1,4.8 6.1,3 C6.1,1.2 5.3,0 3.5,0 Z M3.5,6 C1.5,6 0.4,7.4 0.4,9.5 C0.4,11.6 1.5,13 3.5,13 C5.5,13 6.6,11.6 6.6,9.5 C6.6,7.4 5.5,6 3.5,6 Z"/></g>
<path d="M388.5,528.1 H415.5 L423.8,537 L431,528.1 H456.5 L502,485" fill="none" stroke="#141414" stroke-width="1.38" />
<path d="M439.7,559.3 H467.4 L485.3,524.4" fill="none" stroke="#141414" stroke-width="1.38" />
<circle cx="485.3" cy="524.6" r="1.1" fill="#555"/>
<g style="mix-blend-mode:multiply" transform="translate(324.5,725.7) rotate(-44.9)" fill="none" stroke-linecap="square" stroke-linejoin="round"><path d="M58.0,-72.4 H8.0 V-8.0 H45.0 Q58.0,-8.0 58.0,-21.0 V-26.700000000000003 Q58.0,-39.7 45.0,-39.7 H8.0 M92.5,-72.4 V-8.0 L142.5,-72.4 V-8.0 M183.0,-72.4 H220.0 Q233.0,-72.4 233.0,-59.400000000000006 V-48.7 Q233.0,-39.7 220.0,-39.7 H199.0 M220.0,-39.7 Q233.0,-39.7 233.0,-30.700000000000003 V-21.0 Q233.0,-8.0 220.0,-8.0 H183.0 M301.0,-72.4 H303.0 Q327.0,-72.4 327.0,-48.400000000000006 V-32.0 Q327.0,-8.0 303.0,-8.0 H301.0 Q277.0,-8.0 277.0,-32.0 V-48.400000000000006 Q277.0,-72.4 301.0,-72.4 Z M367.6,-72.4 V-8.0 M417.6,-72.4 V-8.0 M367.6,-39.7 H417.6" stroke="#8c8c8c" stroke-width="16.0"/><path d="M58.0,-72.4 H8.0 V-8.0 H45.0 Q58.0,-8.0 58.0,-21.0 V-26.700000000000003 Q58.0,-39.7 45.0,-39.7 H8.0 M92.5,-72.4 V-8.0 L142.5,-72.4 V-8.0 M183.0,-72.4 H220.0 Q233.0,-72.4 233.0,-59.400000000000006 V-48.7 Q233.0,-39.7 220.0,-39.7 H199.0 M220.0,-39.7 Q233.0,-39.7 233.0,-30.700000000000003 V-21.0 Q233.0,-8.0 220.0,-8.0 H183.0 M301.0,-72.4 H303.0 Q327.0,-72.4 327.0,-48.400000000000006 V-32.0 Q327.0,-8.0 303.0,-8.0 H301.0 Q277.0,-8.0 277.0,-32.0 V-48.400000000000006 Q277.0,-72.4 301.0,-72.4 Z M367.6,-72.4 V-8.0 M417.6,-72.4 V-8.0 M367.6,-39.7 H417.6" stroke="#ffffff" stroke-width="14.1"/></g>
<g style="mix-blend-mode:multiply" transform="matrix(0.80,-0.765,0.33,0.80,176.5,839)" fill="none" stroke-linecap="square" stroke-linejoin="round"><path d="M58.0,-72.4 H8.0 V-8.0 H45.0 Q58.0,-8.0 58.0,-21.0 V-26.700000000000003 Q58.0,-39.7 45.0,-39.7 H8.0" stroke="#8c8c8c" stroke-width="16.0"/><path d="M58.0,-72.4 H8.0 V-8.0 H45.0 Q58.0,-8.0 58.0,-21.0 V-26.700000000000003 Q58.0,-39.7 45.0,-39.7 H8.0" stroke="#ffffff" stroke-width="14.1"/></g>
<path d="M774.2,9 L775.6,6.8 L777.2,5.7 M779.3,5.5 L783.4,3.4 L785,2.6" fill="none" stroke="#4a4a4a" stroke-width="1.3" stroke-linecap="round"/>
</svg>
</body></html>
